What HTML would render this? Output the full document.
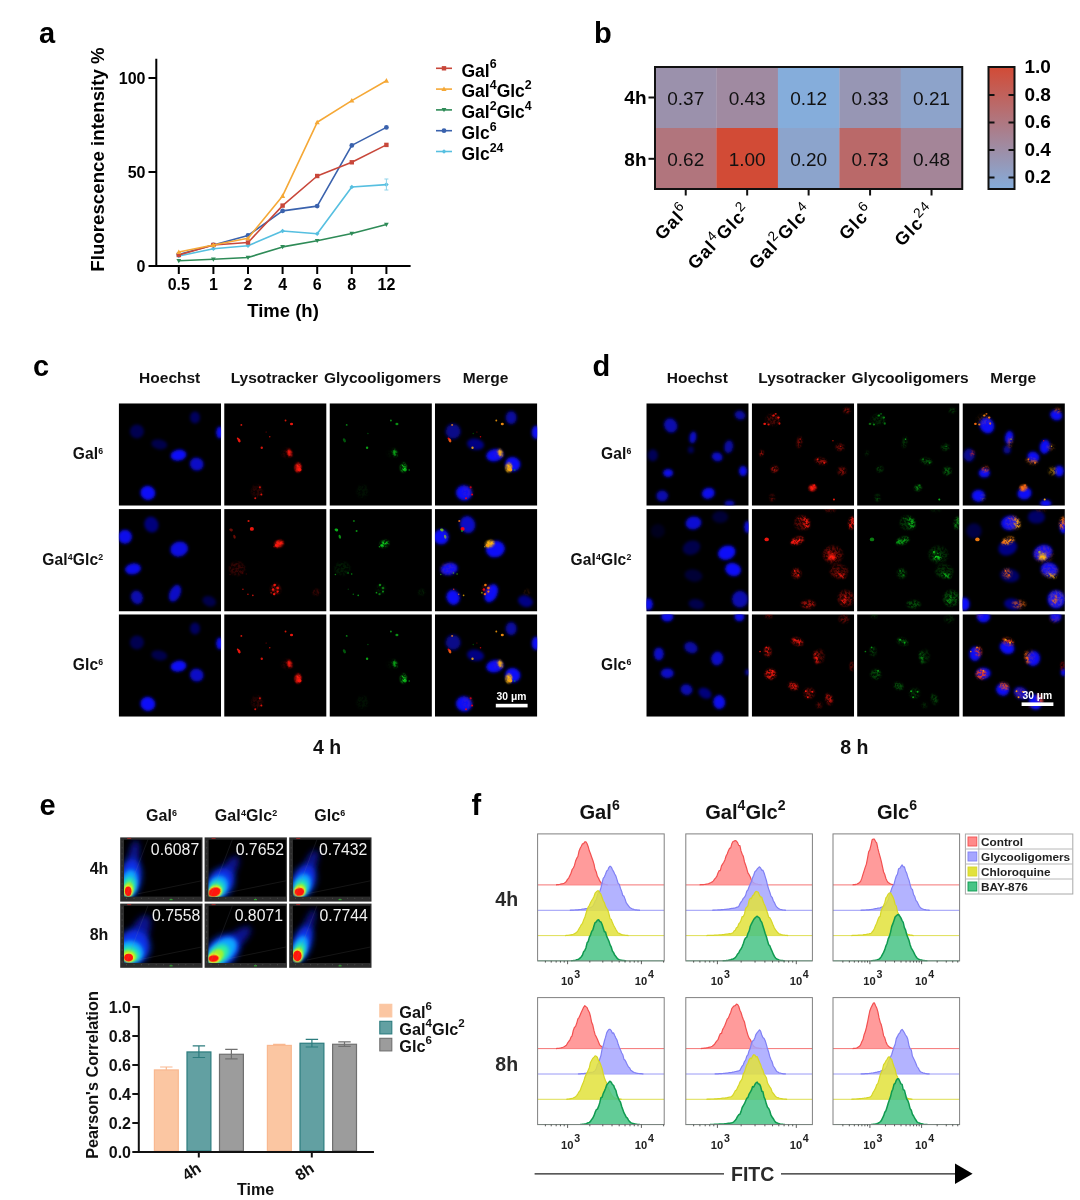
<!DOCTYPE html>
<html lang="en"><head><meta charset="utf-8"><title>Figure</title>
<style>
html,body{margin:0;padding:0;background:#fff;}
body{width:1080px;height:1200px;overflow:hidden;font-family:"Liberation Sans",sans-serif;}
svg{display:block;font-family:"Liberation Sans",sans-serif;}
</style></head><body>
<svg width="1080" height="1200" viewBox="0 0 1080 1200">
<rect width="1080" height="1200" fill="#fff"/>
<g id="panel-a">
<text x="39" y="42.5" font-size="29" font-weight="bold">a</text>
<path d="M156.3 58.7V266H410.6" fill="none" stroke="#000" stroke-width="2"/>
<path d="M148.5 266H156.3" stroke="#000" stroke-width="2"/>
<text x="145.5" y="271.6" font-size="16" font-weight="bold" text-anchor="end">0</text>
<path d="M148.5 172H156.3" stroke="#000" stroke-width="2"/>
<text x="145.5" y="177.6" font-size="16" font-weight="bold" text-anchor="end">50</text>
<path d="M148.5 78H156.3" stroke="#000" stroke-width="2"/>
<text x="145.5" y="83.6" font-size="16" font-weight="bold" text-anchor="end">100</text>
<path d="M178.8 266V274" stroke="#000" stroke-width="2"/>
<text x="178.8" y="290.3" font-size="16" font-weight="bold" text-anchor="middle">0.5</text>
<path d="M213.4 266V274" stroke="#000" stroke-width="2"/>
<text x="213.4" y="290.3" font-size="16" font-weight="bold" text-anchor="middle">1</text>
<path d="M248 266V274" stroke="#000" stroke-width="2"/>
<text x="248" y="290.3" font-size="16" font-weight="bold" text-anchor="middle">2</text>
<path d="M282.6 266V274" stroke="#000" stroke-width="2"/>
<text x="282.6" y="290.3" font-size="16" font-weight="bold" text-anchor="middle">4</text>
<path d="M317.2 266V274" stroke="#000" stroke-width="2"/>
<text x="317.2" y="290.3" font-size="16" font-weight="bold" text-anchor="middle">6</text>
<path d="M351.8 266V274" stroke="#000" stroke-width="2"/>
<text x="351.8" y="290.3" font-size="16" font-weight="bold" text-anchor="middle">8</text>
<path d="M386.4 266V274" stroke="#000" stroke-width="2"/>
<text x="386.4" y="290.3" font-size="16" font-weight="bold" text-anchor="middle">12</text>
<text x="283" y="317" font-size="18.5" font-weight="bold" text-anchor="middle">Time (h)</text>
<text transform="translate(103.6 159.5) rotate(-90)" font-size="18.7" font-weight="bold" text-anchor="middle">Fluorescence intensity %</text>
<polyline points="178.8,260.8 213.4,259.3 248,257.5 282.6,246.9 317.2,240.7 351.8,233.5 386.4,224.6" fill="none" stroke="#2e8b57" stroke-width="1.6" stroke-linejoin="round"/>
<path d="M178.8 263.2L181.2 259H176.4Z" fill="#2e8b57"/>
<path d="M213.4 261.7L215.8 257.5H211Z" fill="#2e8b57"/>
<path d="M248 259.9L250.4 255.7H245.6Z" fill="#2e8b57"/>
<path d="M282.6 249.3L285 245.1H280.2Z" fill="#2e8b57"/>
<path d="M317.2 243.1L319.6 238.9H314.8Z" fill="#2e8b57"/>
<path d="M351.8 235.9L354.2 231.7H349.4Z" fill="#2e8b57"/>
<path d="M386.4 227L388.8 222.8H384Z" fill="#2e8b57"/>
<polyline points="178.8,256 213.4,248.8 248,245.8 282.6,231 317.2,233.7 351.8,187 386.4,184.6" fill="none" stroke="#56bfe0" stroke-width="1.6" stroke-linejoin="round"/>
<path d="M178.8 253.7L181.1 256L178.8 258.3L176.5 256Z" fill="#56bfe0"/>
<path d="M213.4 246.5L215.7 248.8L213.4 251.1L211.1 248.8Z" fill="#56bfe0"/>
<path d="M248 243.5L250.3 245.8L248 248.1L245.7 245.8Z" fill="#56bfe0"/>
<path d="M282.6 228.7L284.9 231L282.6 233.3L280.3 231Z" fill="#56bfe0"/>
<path d="M317.2 231.4L319.5 233.7L317.2 236L314.9 233.7Z" fill="#56bfe0"/>
<path d="M351.8 184.7L354.1 187L351.8 189.3L349.5 187Z" fill="#56bfe0"/>
<path d="M386.4 182.3L388.7 184.6L386.4 186.9L384.1 184.6Z" fill="#56bfe0"/>
<polyline points="178.8,254.5 213.4,245 248,235.5 282.6,210.9 317.2,206.1 351.8,145.4 386.4,127.4" fill="none" stroke="#3a62ad" stroke-width="1.6" stroke-linejoin="round"/>
<circle cx="178.8" cy="254.5" r="2.4" fill="#3a62ad"/>
<circle cx="213.4" cy="245" r="2.4" fill="#3a62ad"/>
<circle cx="248" cy="235.5" r="2.4" fill="#3a62ad"/>
<circle cx="282.6" cy="210.9" r="2.4" fill="#3a62ad"/>
<circle cx="317.2" cy="206.1" r="2.4" fill="#3a62ad"/>
<circle cx="351.8" cy="145.4" r="2.4" fill="#3a62ad"/>
<circle cx="386.4" cy="127.4" r="2.4" fill="#3a62ad"/>
<polyline points="178.8,255 213.4,245 248,242.5 282.6,205.6 317.2,176 351.8,162.3 386.4,144.9" fill="none" stroke="#c8473a" stroke-width="1.6" stroke-linejoin="round"/>
<rect x="176.6" y="252.8" width="4.4" height="4.4" fill="#c8473a"/>
<rect x="211.2" y="242.8" width="4.4" height="4.4" fill="#c8473a"/>
<rect x="245.8" y="240.3" width="4.4" height="4.4" fill="#c8473a"/>
<rect x="280.4" y="203.4" width="4.4" height="4.4" fill="#c8473a"/>
<rect x="315" y="173.8" width="4.4" height="4.4" fill="#c8473a"/>
<rect x="349.6" y="160.1" width="4.4" height="4.4" fill="#c8473a"/>
<rect x="384.2" y="142.7" width="4.4" height="4.4" fill="#c8473a"/>
<polyline points="178.8,252 213.4,245 248,238.3 282.6,195.9 317.2,122.3 351.8,100.6 386.4,80.7" fill="none" stroke="#f5a836" stroke-width="1.6" stroke-linejoin="round"/>
<path d="M178.8 249.4L181.4 254H176.2Z" fill="#f5a836"/>
<path d="M213.4 242.4L216 247H210.8Z" fill="#f5a836"/>
<path d="M248 235.7L250.6 240.3H245.4Z" fill="#f5a836"/>
<path d="M282.6 193.3L285.2 197.9H280Z" fill="#f5a836"/>
<path d="M317.2 119.7L319.8 124.3H314.6Z" fill="#f5a836"/>
<path d="M351.8 98L354.4 102.6H349.2Z" fill="#f5a836"/>
<path d="M386.4 78.1L389 82.7H383.8Z" fill="#f5a836"/>
<path d="M386.4 179V190M384.4 179h4M384.4 190h4" stroke="#8fd3ea" stroke-width="1" fill="none"/>
<path d="M436 68.3H452" stroke="#c8473a" stroke-width="1.6"/>
<rect x="441.8" y="66.1" width="4.4" height="4.4" fill="#c8473a"/>
<text x="461.5" y="76.5" font-size="17.5" font-weight="bold" text-anchor="start" fill="#000" >Gal<tspan font-size="12.42" dy="-8.05">6</tspan></text>
<path d="M436 89.1H452" stroke="#f5a836" stroke-width="1.6"/>
<path d="M444 86.5L446.6 91.1H441.4Z" fill="#f5a836"/>
<text x="461.5" y="97.3" font-size="17.5" font-weight="bold" text-anchor="start" fill="#000" >Gal<tspan font-size="12.42" dy="-8.05">4</tspan><tspan dy="8.05">Glc</tspan><tspan font-size="12.42" dy="-8.05">2</tspan></text>
<path d="M436 109.9H452" stroke="#2e8b57" stroke-width="1.6"/>
<path d="M444 112.3L446.4 108.1H441.6Z" fill="#2e8b57"/>
<text x="461.5" y="118.1" font-size="17.5" font-weight="bold" text-anchor="start" fill="#000" >Gal<tspan font-size="12.42" dy="-8.05">2</tspan><tspan dy="8.05">Glc</tspan><tspan font-size="12.42" dy="-8.05">4</tspan></text>
<path d="M436 130.7H452" stroke="#3a62ad" stroke-width="1.6"/>
<circle cx="444" cy="130.7" r="2.4" fill="#3a62ad"/>
<text x="461.5" y="138.9" font-size="17.5" font-weight="bold" text-anchor="start" fill="#000" >Glc<tspan font-size="12.42" dy="-8.05">6</tspan></text>
<path d="M436 151.5H452" stroke="#56bfe0" stroke-width="1.6"/>
<path d="M444 149.2L446.3 151.5L444 153.8L441.7 151.5Z" fill="#56bfe0"/>
<text x="461.5" y="159.7" font-size="17.5" font-weight="bold" text-anchor="start" fill="#000" >Glc<tspan font-size="12.42" dy="-8.05">24</tspan></text>
</g>
<g id="panel-b">
<text x="594" y="42.5" font-size="29" font-weight="bold">b</text>
<rect x="655" y="67" width="61.75" height="61.2" fill="#9b91ac"/>
<text x="685.73" y="104.5" font-size="19" text-anchor="middle" fill="#111">0.37</text>
<rect x="716.45" y="67" width="61.75" height="61.2" fill="#a08aa1"/>
<text x="747.17" y="104.5" font-size="19" text-anchor="middle" fill="#111">0.43</text>
<rect x="777.9" y="67" width="61.75" height="61.2" fill="#85addb"/>
<text x="808.62" y="104.5" font-size="19" text-anchor="middle" fill="#111">0.12</text>
<rect x="839.35" y="67" width="61.75" height="61.2" fill="#9796b4"/>
<text x="870.08" y="104.5" font-size="19" text-anchor="middle" fill="#111">0.33</text>
<rect x="900.8" y="67" width="61.75" height="61.2" fill="#8da3ca"/>
<text x="931.53" y="104.5" font-size="19" text-anchor="middle" fill="#111">0.21</text>
<rect x="655" y="128" width="61.75" height="61.2" fill="#b1757d"/>
<text x="685.73" y="165.6" font-size="19" text-anchor="middle" fill="#111">0.62</text>
<rect x="716.45" y="128" width="61.75" height="61.2" fill="#d24b36"/>
<text x="747.17" y="165.6" font-size="19" text-anchor="middle" fill="#111">1.00</text>
<rect x="777.9" y="128" width="61.75" height="61.2" fill="#8ca4cc"/>
<text x="808.62" y="165.6" font-size="19" text-anchor="middle" fill="#111">0.20</text>
<rect x="839.35" y="128" width="61.75" height="61.2" fill="#ba6969"/>
<text x="870.08" y="165.6" font-size="19" text-anchor="middle" fill="#111">0.73</text>
<rect x="900.8" y="128" width="61.75" height="61.2" fill="#a48598"/>
<text x="931.53" y="165.6" font-size="19" text-anchor="middle" fill="#111">0.48</text>
<rect x="655" y="67" width="307.25" height="122" fill="none" stroke="#111" stroke-width="2"/>
<path d="M648.5 97.5H655" stroke="#111" stroke-width="2"/>
<text x="646.5" y="104.3" font-size="19" font-weight="bold" text-anchor="end">4h</text>
<path d="M648.5 158.8H655" stroke="#111" stroke-width="2"/>
<text x="646.5" y="165.6" font-size="19" font-weight="bold" text-anchor="end">8h</text>
<path d="M685.73 189V195.5" stroke="#111" stroke-width="2"/>
<text x="0" y="0" font-size="18" font-weight="bold" text-anchor="end" fill="#000" transform="translate(690.73 211.5) rotate(-46)" letter-spacing="1.1">Gal<tspan font-size="13.68" dy="-7.56" font-weight="normal">6</tspan></text>
<path d="M747.17 189V195.5" stroke="#111" stroke-width="2"/>
<text x="0" y="0" font-size="18" font-weight="bold" text-anchor="end" fill="#000" transform="translate(752.17 211.5) rotate(-46)" letter-spacing="1.1">Gal<tspan font-size="13.68" dy="-7.56" font-weight="normal">4</tspan><tspan dy="7.56">Glc</tspan><tspan font-size="13.68" dy="-7.56" font-weight="normal">2</tspan></text>
<path d="M808.62 189V195.5" stroke="#111" stroke-width="2"/>
<text x="0" y="0" font-size="18" font-weight="bold" text-anchor="end" fill="#000" transform="translate(813.62 211.5) rotate(-46)" letter-spacing="1.1">Gal<tspan font-size="13.68" dy="-7.56" font-weight="normal">2</tspan><tspan dy="7.56">Glc</tspan><tspan font-size="13.68" dy="-7.56" font-weight="normal">4</tspan></text>
<path d="M870.08 189V195.5" stroke="#111" stroke-width="2"/>
<text x="0" y="0" font-size="18" font-weight="bold" text-anchor="end" fill="#000" transform="translate(875.08 211.5) rotate(-46)" letter-spacing="1.1">Glc<tspan font-size="13.68" dy="-7.56" font-weight="normal">6</tspan></text>
<path d="M931.53 189V195.5" stroke="#111" stroke-width="2"/>
<text x="0" y="0" font-size="18" font-weight="bold" text-anchor="end" fill="#000" transform="translate(936.53 211.5) rotate(-46)" letter-spacing="1.1">Glc<tspan font-size="13.68" dy="-7.56" font-weight="normal">24</tspan></text>
<defs><linearGradient id="cbar" x1="0" y1="0" x2="0" y2="1"><stop offset="0" stop-color="#d24b36"/><stop offset="1" stop-color="#85addb"/></linearGradient></defs>
<rect x="988.5" y="67" width="26" height="122" fill="url(#cbar)" stroke="#111" stroke-width="2"/>
<text x="1024.5" y="73.1" font-size="19" font-weight="bold">1.0</text>
<path d="M988.5 95h6M1014.5 95h-6" stroke="#111" stroke-width="2"/>
<text x="1024.5" y="100.6" font-size="19" font-weight="bold">0.8</text>
<path d="M988.5 122.5h6M1014.5 122.5h-6" stroke="#111" stroke-width="2"/>
<text x="1024.5" y="128.1" font-size="19" font-weight="bold">0.6</text>
<path d="M988.5 150h6M1014.5 150h-6" stroke="#111" stroke-width="2"/>
<text x="1024.5" y="155.6" font-size="19" font-weight="bold">0.4</text>
<path d="M988.5 177.5h6M1014.5 177.5h-6" stroke="#111" stroke-width="2"/>
<text x="1024.5" y="183.1" font-size="19" font-weight="bold">0.2</text>
</g>
<g id="panel-cd">
<defs>
<filter id="bl1" x="-50%" y="-50%" width="200%" height="200%"><feGaussianBlur stdDeviation="1.5"/></filter>
<filter id="bl2" x="-50%" y="-50%" width="200%" height="200%"><feGaussianBlur stdDeviation="0.5"/></filter>
<filter id="bl3" x="-50%" y="-50%" width="200%" height="200%"><feGaussianBlur stdDeviation="1.0"/></filter>
<filter id="spk" x="-2" y="-2" width="107" height="107" filterUnits="userSpaceOnUse" color-interpolation-filters="sRGB"><feGaussianBlur in="SourceGraphic" stdDeviation="0.9" result="b"/><feTurbulence type="fractalNoise" baseFrequency="0.42" numOctaves="2" seed="7" result="n"/><feColorMatrix in="n" type="matrix" values="0 0 0 0 0 0 0 0 0 0 0 0 0 0 0 4.2 0 0 0 -1.55" result="m"/><feComposite in="b" in2="m" operator="in" result="sp"/><feGaussianBlur in="SourceGraphic" stdDeviation="1.4" result="h"/><feComponentTransfer in="h" result="hz"><feFuncA type="linear" slope="0.28"/></feComponentTransfer><feMerge><feMergeNode in="hz"/><feMergeNode in="sp"/></feMerge></filter>
<clipPath id="cellclip"><rect x="0" y="0" width="102.4" height="102.4"/></clipPath>
<g id="blue-c1" filter="url(#bl1)">
<ellipse cx="18.2" cy="28.1" rx="7" ry="7" transform="rotate(0 18.2 28.1)" fill="#0c0cf8" opacity="0.32"/>
<ellipse cx="76.3" cy="14.3" rx="5" ry="6" transform="rotate(0 76.3 14.3)" fill="#0c0cf8" opacity="0.38"/>
<ellipse cx="101" cy="29.1" rx="3.5" ry="6" transform="rotate(0 101 29.1)" fill="#0c0cf8" opacity="0.95"/>
<ellipse cx="40.6" cy="41" rx="8" ry="5" transform="rotate(10 40.6 41)" fill="#0c0cf8" opacity="0.3"/>
<ellipse cx="59.8" cy="51.9" rx="8" ry="5.5" transform="rotate(-10 59.8 51.9)" fill="#0c0cf8" opacity="1"/>
<ellipse cx="78" cy="60.8" rx="7" ry="6.5" transform="rotate(20 78 60.8)" fill="#0c0cf8" opacity="0.8"/>
<ellipse cx="29.1" cy="89.6" rx="7.5" ry="7" transform="rotate(20 29.1 89.6)" fill="#0c0cf8" opacity="1"/>
</g>
<g id="blueM-c1" filter="url(#bl1)">
<ellipse cx="18.2" cy="28.1" rx="7.6" ry="7.6" transform="rotate(0 18.2 28.1)" fill="#0c0cf8" opacity="0.55"/>
<ellipse cx="76.3" cy="14.3" rx="5.6" ry="6.6" transform="rotate(0 76.3 14.3)" fill="#0c0cf8" opacity="0.63"/>
<ellipse cx="101" cy="29.1" rx="4.1" ry="6.6" transform="rotate(0 101 29.1)" fill="#0c0cf8" opacity="1"/>
<ellipse cx="40.6" cy="41" rx="8.6" ry="5.6" transform="rotate(10 40.6 41)" fill="#0c0cf8" opacity="0.53"/>
<ellipse cx="59.8" cy="51.9" rx="8.6" ry="6.1" transform="rotate(-10 59.8 51.9)" fill="#0c0cf8" opacity="1"/>
<ellipse cx="78" cy="60.8" rx="7.6" ry="7.1" transform="rotate(20 78 60.8)" fill="#0c0cf8" opacity="1"/>
<ellipse cx="29.1" cy="89.6" rx="8.1" ry="7.6" transform="rotate(20 29.1 89.6)" fill="#0c0cf8" opacity="1"/>
</g>
<g id="blue-c2" filter="url(#bl1)">
<ellipse cx="32.7" cy="15.5" rx="7" ry="8" transform="rotate(-20 32.7 15.5)" fill="#0c0cf8" opacity="0.5"/>
<ellipse cx="6.3" cy="27.7" rx="7" ry="7" transform="rotate(0 6.3 27.7)" fill="#0c0cf8" opacity="0.95"/>
<ellipse cx="60.4" cy="40" rx="9" ry="7.5" transform="rotate(-15 60.4 40)" fill="#0c0cf8" opacity="0.9"/>
<ellipse cx="14.3" cy="59.8" rx="8" ry="5.5" transform="rotate(-10 14.3 59.8)" fill="#0c0cf8" opacity="0.95"/>
<ellipse cx="18.2" cy="88.2" rx="6" ry="7" transform="rotate(-20 18.2 88.2)" fill="#0c0cf8" opacity="0.7"/>
<ellipse cx="56.3" cy="84.2" rx="5.5" ry="9" transform="rotate(25 56.3 84.2)" fill="#0c0cf8" opacity="0.8"/>
<ellipse cx="90.5" cy="92.1" rx="7" ry="5" transform="rotate(20 90.5 92.1)" fill="#0c0cf8" opacity="0.3"/>
</g>
<g id="blueM-c2" filter="url(#bl1)">
<ellipse cx="32.7" cy="15.5" rx="7.6" ry="8.6" transform="rotate(-20 32.7 15.5)" fill="#0c0cf8" opacity="0.8"/>
<ellipse cx="6.3" cy="27.7" rx="7.6" ry="7.6" transform="rotate(0 6.3 27.7)" fill="#0c0cf8" opacity="1"/>
<ellipse cx="60.4" cy="40" rx="9.6" ry="8.1" transform="rotate(-15 60.4 40)" fill="#0c0cf8" opacity="1"/>
<ellipse cx="14.3" cy="59.8" rx="8.6" ry="6.1" transform="rotate(-10 14.3 59.8)" fill="#0c0cf8" opacity="1"/>
<ellipse cx="18.2" cy="88.2" rx="6.6" ry="7.6" transform="rotate(-20 18.2 88.2)" fill="#0c0cf8" opacity="1"/>
<ellipse cx="56.3" cy="84.2" rx="6.1" ry="9.6" transform="rotate(25 56.3 84.2)" fill="#0c0cf8" opacity="1"/>
<ellipse cx="90.5" cy="92.1" rx="7.6" ry="5.6" transform="rotate(20 90.5 92.1)" fill="#0c0cf8" opacity="0.53"/>
</g>
<g id="blue-d1" filter="url(#bl1)">
<ellipse cx="24.4" cy="22.2" rx="6.5" ry="7.5" transform="rotate(-30 24.4 22.2)" fill="#0c0cf8" opacity="0.7"/>
<ellipse cx="93.7" cy="11.9" rx="5.5" ry="4.5" transform="rotate(20 93.7 11.9)" fill="#0c0cf8" opacity="0.65"/>
<ellipse cx="46.6" cy="34.1" rx="3.5" ry="6" transform="rotate(10 46.6 34.1)" fill="#0c0cf8" opacity="0.8"/>
<ellipse cx="44.6" cy="46.4" rx="3" ry="3.5" transform="rotate(0 44.6 46.4)" fill="#0c0cf8" opacity="0.35"/>
<ellipse cx="82.4" cy="43.4" rx="4.5" ry="6.5" transform="rotate(10 82.4 43.4)" fill="#0c0cf8" opacity="0.65"/>
<ellipse cx="6.5" cy="51.9" rx="5" ry="6" transform="rotate(0 6.5 51.9)" fill="#0c0cf8" opacity="0.35"/>
<ellipse cx="70.9" cy="53.5" rx="5.5" ry="4.5" transform="rotate(20 70.9 53.5)" fill="#0c0cf8" opacity="0.8"/>
<ellipse cx="21.8" cy="69.7" rx="5" ry="4" transform="rotate(0 21.8 69.7)" fill="#0c0cf8" opacity="0.95"/>
<ellipse cx="96.7" cy="67.8" rx="4" ry="5" transform="rotate(0 96.7 67.8)" fill="#0c0cf8" opacity="0.95"/>
<ellipse cx="15.9" cy="92.5" rx="6" ry="5.5" transform="rotate(0 15.9 92.5)" fill="#0c0cf8" opacity="0.7"/>
<ellipse cx="62" cy="90" rx="6.5" ry="5.5" transform="rotate(-15 62 90)" fill="#0c0cf8" opacity="0.95"/>
<ellipse cx="83.2" cy="100" rx="5" ry="3" transform="rotate(0 83.2 100)" fill="#0c0cf8" opacity="0.7"/>
</g>
<g id="blueM-d1" filter="url(#bl1)">
<ellipse cx="24.4" cy="22.2" rx="7.1" ry="8.1" transform="rotate(-30 24.4 22.2)" fill="#0c0cf8" opacity="1"/>
<ellipse cx="93.7" cy="11.9" rx="6.1" ry="5.1" transform="rotate(20 93.7 11.9)" fill="#0c0cf8" opacity="1"/>
<ellipse cx="46.6" cy="34.1" rx="4.1" ry="6.6" transform="rotate(10 46.6 34.1)" fill="#0c0cf8" opacity="1"/>
<ellipse cx="44.6" cy="46.4" rx="3.6" ry="4.1" transform="rotate(0 44.6 46.4)" fill="#0c0cf8" opacity="0.59"/>
<ellipse cx="82.4" cy="43.4" rx="5.1" ry="7.1" transform="rotate(10 82.4 43.4)" fill="#0c0cf8" opacity="1"/>
<ellipse cx="6.5" cy="51.9" rx="5.6" ry="6.6" transform="rotate(0 6.5 51.9)" fill="#0c0cf8" opacity="0.59"/>
<ellipse cx="70.9" cy="53.5" rx="6.1" ry="5.1" transform="rotate(20 70.9 53.5)" fill="#0c0cf8" opacity="1"/>
<ellipse cx="21.8" cy="69.7" rx="5.6" ry="4.6" transform="rotate(0 21.8 69.7)" fill="#0c0cf8" opacity="1"/>
<ellipse cx="96.7" cy="67.8" rx="4.6" ry="5.6" transform="rotate(0 96.7 67.8)" fill="#0c0cf8" opacity="1"/>
<ellipse cx="15.9" cy="92.5" rx="6.6" ry="6.1" transform="rotate(0 15.9 92.5)" fill="#0c0cf8" opacity="1"/>
<ellipse cx="62" cy="90" rx="7.1" ry="6.1" transform="rotate(-15 62 90)" fill="#0c0cf8" opacity="1"/>
<ellipse cx="83.2" cy="100" rx="5.6" ry="3.6" transform="rotate(0 83.2 100)" fill="#0c0cf8" opacity="1"/>
</g>
<g id="blue-d2" filter="url(#bl1)">
<ellipse cx="47.2" cy="13.9" rx="8" ry="6.5" transform="rotate(-10 47.2 13.9)" fill="#0c0cf8" opacity="0.85"/>
<ellipse cx="73.9" cy="7.9" rx="8" ry="6" transform="rotate(0 73.9 7.9)" fill="#0c0cf8" opacity="0.22"/>
<ellipse cx="101" cy="17.8" rx="3" ry="6" transform="rotate(0 101 17.8)" fill="#0c0cf8" opacity="0.9"/>
<ellipse cx="45.2" cy="38.6" rx="9" ry="7" transform="rotate(-20 45.2 38.6)" fill="#0c0cf8" opacity="0.3"/>
<ellipse cx="80.4" cy="43.6" rx="9" ry="7" transform="rotate(-20 80.4 43.6)" fill="#0c0cf8" opacity="1"/>
<ellipse cx="86.8" cy="60.4" rx="8" ry="6.5" transform="rotate(15 86.8 60.4)" fill="#0c0cf8" opacity="1"/>
<ellipse cx="47.2" cy="66.4" rx="9" ry="6" transform="rotate(10 47.2 66.4)" fill="#0c0cf8" opacity="0.22"/>
<ellipse cx="11.5" cy="21.8" rx="7" ry="7" transform="rotate(0 11.5 21.8)" fill="#0c0cf8" opacity="0.12"/>
<ellipse cx="2" cy="95.1" rx="4.5" ry="6" transform="rotate(0 2 95.1)" fill="#0c0cf8" opacity="0.95"/>
<ellipse cx="93.7" cy="90.2" rx="8" ry="8.5" transform="rotate(0 93.7 90.2)" fill="#0c0cf8" opacity="0.7"/>
<ellipse cx="50.1" cy="95.1" rx="8" ry="5" transform="rotate(10 50.1 95.1)" fill="#0c0cf8" opacity="0.3"/>
</g>
<g id="blueM-d2" filter="url(#bl1)">
<ellipse cx="47.2" cy="13.9" rx="8.6" ry="7.1" transform="rotate(-10 47.2 13.9)" fill="#0c0cf8" opacity="1"/>
<ellipse cx="73.9" cy="7.9" rx="8.6" ry="6.6" transform="rotate(0 73.9 7.9)" fill="#0c0cf8" opacity="0.42"/>
<ellipse cx="101" cy="17.8" rx="3.6" ry="6.6" transform="rotate(0 101 17.8)" fill="#0c0cf8" opacity="1"/>
<ellipse cx="45.2" cy="38.6" rx="9.6" ry="7.6" transform="rotate(-20 45.2 38.6)" fill="#0c0cf8" opacity="0.53"/>
<ellipse cx="80.4" cy="43.6" rx="9.6" ry="7.6" transform="rotate(-20 80.4 43.6)" fill="#0c0cf8" opacity="1"/>
<ellipse cx="86.8" cy="60.4" rx="8.6" ry="7.1" transform="rotate(15 86.8 60.4)" fill="#0c0cf8" opacity="1"/>
<ellipse cx="47.2" cy="66.4" rx="9.6" ry="6.6" transform="rotate(10 47.2 66.4)" fill="#0c0cf8" opacity="0.42"/>
<ellipse cx="11.5" cy="21.8" rx="7.6" ry="7.6" transform="rotate(0 11.5 21.8)" fill="#0c0cf8" opacity="0.28"/>
<ellipse cx="2" cy="95.1" rx="5.1" ry="6.6" transform="rotate(0 2 95.1)" fill="#0c0cf8" opacity="1"/>
<ellipse cx="93.7" cy="90.2" rx="8.6" ry="9.1" transform="rotate(0 93.7 90.2)" fill="#0c0cf8" opacity="1"/>
<ellipse cx="50.1" cy="95.1" rx="8.6" ry="5.6" transform="rotate(10 50.1 95.1)" fill="#0c0cf8" opacity="0.53"/>
</g>
<g id="blue-d3" filter="url(#bl1)">
<ellipse cx="21" cy="2.5" rx="6" ry="5" transform="rotate(0 21 2.5)" fill="#0c0cf8" opacity="0.95"/>
<ellipse cx="93.1" cy="2.5" rx="5" ry="4.5" transform="rotate(0 93.1 2.5)" fill="#0c0cf8" opacity="0.95"/>
<ellipse cx="44.6" cy="33.3" rx="7" ry="5.5" transform="rotate(25 44.6 33.3)" fill="#0c0cf8" opacity="0.65"/>
<ellipse cx="12.5" cy="39.6" rx="5" ry="6.5" transform="rotate(0 12.5 39.6)" fill="#0c0cf8" opacity="0.8"/>
<ellipse cx="70.9" cy="44.2" rx="6" ry="7" transform="rotate(10 70.9 44.2)" fill="#0c0cf8" opacity="0.8"/>
<ellipse cx="21" cy="59" rx="6.5" ry="5" transform="rotate(0 21 59)" fill="#0c0cf8" opacity="0.8"/>
<ellipse cx="101" cy="58" rx="2" ry="3" transform="rotate(0 101 58)" fill="#0c0cf8" opacity="0.7"/>
<ellipse cx="40.2" cy="75.3" rx="6" ry="5.5" transform="rotate(20 40.2 75.3)" fill="#0c0cf8" opacity="0.7"/>
<ellipse cx="58.6" cy="78.9" rx="7" ry="5" transform="rotate(30 58.6 78.9)" fill="#0c0cf8" opacity="0.5"/>
<ellipse cx="72.9" cy="87.8" rx="6" ry="7" transform="rotate(-10 72.9 87.8)" fill="#0c0cf8" opacity="0.95"/>
</g>
<g id="blueM-d3" filter="url(#bl1)">
<ellipse cx="21" cy="2.5" rx="6.6" ry="5.6" transform="rotate(0 21 2.5)" fill="#0c0cf8" opacity="1"/>
<ellipse cx="93.1" cy="2.5" rx="5.6" ry="5.1" transform="rotate(0 93.1 2.5)" fill="#0c0cf8" opacity="1"/>
<ellipse cx="44.6" cy="33.3" rx="7.6" ry="6.1" transform="rotate(25 44.6 33.3)" fill="#0c0cf8" opacity="1"/>
<ellipse cx="12.5" cy="39.6" rx="5.6" ry="7.1" transform="rotate(0 12.5 39.6)" fill="#0c0cf8" opacity="1"/>
<ellipse cx="70.9" cy="44.2" rx="6.6" ry="7.6" transform="rotate(10 70.9 44.2)" fill="#0c0cf8" opacity="1"/>
<ellipse cx="21" cy="59" rx="7.1" ry="5.6" transform="rotate(0 21 59)" fill="#0c0cf8" opacity="1"/>
<ellipse cx="101" cy="58" rx="2.6" ry="3.6" transform="rotate(0 101 58)" fill="#0c0cf8" opacity="1"/>
<ellipse cx="40.2" cy="75.3" rx="6.6" ry="6.1" transform="rotate(20 40.2 75.3)" fill="#0c0cf8" opacity="1"/>
<ellipse cx="58.6" cy="78.9" rx="7.6" ry="5.6" transform="rotate(30 58.6 78.9)" fill="#0c0cf8" opacity="0.8"/>
<ellipse cx="72.9" cy="87.8" rx="6.6" ry="7.6" transform="rotate(-10 72.9 87.8)" fill="#0c0cf8" opacity="1"/>
</g>
<g id="red-c1" fill="#ff1a10"><g filter="url(#spk)"><ellipse cx="65.4" cy="49.5" rx="1.8" ry="3.6" transform="rotate(-20 65.4 49.5)" opacity="0.9"/><ellipse cx="73.9" cy="64.2" rx="2.6" ry="4.2" transform="rotate(0 73.9 64.2)" opacity="1"/><ellipse cx="33" cy="88" rx="6" ry="7" transform="rotate(0 33 88)" opacity="0.12"/><ellipse cx="62" cy="50" rx="5" ry="5" transform="rotate(0 62 50)" opacity="0.1"/></g><g filter="url(#bl3)" opacity="0.8"><ellipse cx="65.4" cy="49.5" rx="1.8" ry="3.6" transform="rotate(-20 65.4 49.5)" opacity="0.9"/><ellipse cx="73.9" cy="64.2" rx="2.6" ry="4.2" transform="rotate(0 73.9 64.2)" opacity="1"/></g><g filter="url(#bl2)"><ellipse cx="17.2" cy="21.6" rx="0.94" ry="0.94" transform="rotate(0 17.2 21.6)" opacity="0.83"/><ellipse cx="14.9" cy="37" rx="1.36" ry="2.21" transform="rotate(-25 14.9 37)" opacity="0.92"/><ellipse cx="13.5" cy="35" rx="0.85" ry="0.85" transform="rotate(0 13.5 35)" opacity="0.92"/><ellipse cx="37.6" cy="44.4" rx="1.19" ry="1.19" transform="rotate(0 37.6 44.4)" opacity="0.83"/><ellipse cx="45.6" cy="33.5" rx="0.77" ry="0.77" transform="rotate(0 45.6 33.5)" opacity="0.74"/><ellipse cx="42" cy="28.7" rx="0.59" ry="0.59" transform="rotate(0 42 28.7)" opacity="0.55"/><ellipse cx="61.4" cy="17.2" rx="0.94" ry="0.94" transform="rotate(0 61.4 17.2)" opacity="0.83"/><ellipse cx="67.4" cy="20.6" rx="1.53" ry="1.27" transform="rotate(0 67.4 20.6)" opacity="0.92"/><ellipse cx="75.5" cy="66.5" rx="1.87" ry="1.7" transform="rotate(0 75.5 66.5)" opacity="0.92"/><ellipse cx="35.7" cy="84" rx="1.1" ry="1.1" transform="rotate(0 35.7 84)" opacity="0.74"/><ellipse cx="37.2" cy="91.1" rx="1.02" ry="1.02" transform="rotate(0 37.2 91.1)" opacity="0.83"/><ellipse cx="31.1" cy="94.9" rx="1.02" ry="1.02" transform="rotate(0 31.1 94.9)" opacity="0.83"/></g></g>
<g id="green-c1" fill="#10e020"><g filter="url(#spk)"><ellipse cx="65.4" cy="49.5" rx="1.8" ry="3.6" transform="rotate(-20 65.4 49.5)" opacity="0.77"/><ellipse cx="73.9" cy="64.2" rx="2.6" ry="4.2" transform="rotate(0 73.9 64.2)" opacity="0.85"/><ellipse cx="33" cy="88" rx="6" ry="7" transform="rotate(0 33 88)" opacity="0.06"/><ellipse cx="62" cy="50" rx="5" ry="5" transform="rotate(0 62 50)" opacity="0.04"/></g><g filter="url(#bl3)" opacity="0.8"></g><g filter="url(#bl2)"><ellipse cx="17.2" cy="21.6" rx="0.94" ry="0.94" transform="rotate(0 17.2 21.6)" opacity="0.55"/><ellipse cx="14.9" cy="37" rx="1.36" ry="2.21" transform="rotate(-25 14.9 37)" opacity="0.39"/><ellipse cx="37.6" cy="44.4" rx="1.19" ry="1.19" transform="rotate(0 37.6 44.4)" opacity="0.7"/><ellipse cx="38.4" cy="30.1" rx="0.77" ry="0.77" transform="rotate(0 38.4 30.1)" opacity="0.31"/><ellipse cx="61.4" cy="17.2" rx="0.94" ry="0.94" transform="rotate(0 61.4 17.2)" opacity="0.63"/><ellipse cx="67.4" cy="20.6" rx="1.53" ry="1.27" transform="rotate(0 67.4 20.6)" opacity="0.63"/><ellipse cx="75.5" cy="66.5" rx="1.87" ry="1.7" transform="rotate(0 75.5 66.5)" opacity="0.7"/><ellipse cx="79.7" cy="66.8" rx="0.77" ry="0.77" transform="rotate(0 79.7 66.8)" opacity="0.63"/></g></g>
<g id="mrg-c1"><g filter="url(#spk)"><ellipse cx="65.4" cy="49.5" rx="1.8" ry="3.6" transform="rotate(-20 65.4 49.5)" fill="rgb(255,183,16)" opacity="0.9"/><ellipse cx="73.9" cy="64.2" rx="2.6" ry="4.2" transform="rotate(0 73.9 64.2)" fill="rgb(255,183,16)" opacity="1"/><ellipse cx="33" cy="88" rx="6" ry="7" transform="rotate(0 33 88)" fill="rgb(255,107,16)" opacity="0.07"/><ellipse cx="62" cy="50" rx="5" ry="5" transform="rotate(0 62 50)" fill="rgb(255,91,16)" opacity="0.06"/></g><g filter="url(#bl3)" opacity="0.8"><ellipse cx="65.4" cy="49.5" rx="1.8" ry="3.6" transform="rotate(-20 65.4 49.5)" fill="rgb(255,183,16)" opacity="0.9"/><ellipse cx="73.9" cy="64.2" rx="2.6" ry="4.2" transform="rotate(0 73.9 64.2)" fill="rgb(255,183,16)" opacity="1"/></g><g filter="url(#bl2)"><ellipse cx="17.2" cy="21.6" rx="0.94" ry="0.94" transform="rotate(0 17.2 21.6)" fill="rgb(255,142,16)" opacity="0.83"/><ellipse cx="14.9" cy="37" rx="1.36" ry="2.21" transform="rotate(-25 14.9 37)" fill="rgb(255,91,16)" opacity="0.92"/><ellipse cx="13.5" cy="35" rx="0.85" ry="0.85" transform="rotate(0 13.5 35)" fill="rgb(255,0,16)" opacity="0.92"/><ellipse cx="37.6" cy="44.4" rx="1.19" ry="1.19" transform="rotate(0 37.6 44.4)" fill="rgb(255,183,16)" opacity="0.83"/><ellipse cx="45.6" cy="33.5" rx="0.77" ry="0.77" transform="rotate(0 45.6 33.5)" fill="rgb(255,0,16)" opacity="0.74"/><ellipse cx="42" cy="28.7" rx="0.59" ry="0.59" transform="rotate(0 42 28.7)" fill="rgb(255,0,16)" opacity="0.55"/><ellipse cx="38.4" cy="30.1" rx="0.77" ry="0.77" transform="rotate(0 38.4 30.1)" fill="rgb(0,215,16)" opacity="0.31"/><ellipse cx="61.4" cy="17.2" rx="0.94" ry="0.94" transform="rotate(0 61.4 17.2)" fill="rgb(255,162,16)" opacity="0.83"/><ellipse cx="67.4" cy="20.6" rx="1.53" ry="1.27" transform="rotate(0 67.4 20.6)" fill="rgb(255,146,16)" opacity="0.92"/><ellipse cx="75.5" cy="66.5" rx="1.87" ry="1.7" transform="rotate(0 75.5 66.5)" fill="rgb(255,164,16)" opacity="0.92"/><ellipse cx="79.7" cy="66.8" rx="0.77" ry="0.77" transform="rotate(0 79.7 66.8)" fill="rgb(0,215,16)" opacity="0.63"/><ellipse cx="35.7" cy="84" rx="1.1" ry="1.1" transform="rotate(0 35.7 84)" fill="rgb(255,0,16)" opacity="0.74"/><ellipse cx="37.2" cy="91.1" rx="1.02" ry="1.02" transform="rotate(0 37.2 91.1)" fill="rgb(255,0,16)" opacity="0.83"/><ellipse cx="31.1" cy="94.9" rx="1.02" ry="1.02" transform="rotate(0 31.1 94.9)" fill="rgb(255,0,16)" opacity="0.83"/></g></g>
<g id="red-c2" fill="#ff1a10"><g filter="url(#spk)"><ellipse cx="54.9" cy="34.7" rx="4.2" ry="3" transform="rotate(-25 54.9 34.7)" opacity="1"/><ellipse cx="12.9" cy="59.4" rx="8" ry="7" transform="rotate(0 12.9 59.4)" opacity="0.16"/><ellipse cx="51.5" cy="80.2" rx="5" ry="6" transform="rotate(0 51.5 80.2)" opacity="0.28"/><ellipse cx="92.1" cy="83.2" rx="3.5" ry="3" transform="rotate(0 92.1 83.2)" opacity="0.22"/></g><g filter="url(#bl3)" opacity="0.8"><ellipse cx="54.9" cy="34.7" rx="4.2" ry="3" transform="rotate(-25 54.9 34.7)" opacity="1"/></g><g filter="url(#bl2)"><ellipse cx="27.7" cy="19.8" rx="2.04" ry="1.87" transform="rotate(0 27.7 19.8)" opacity="0.92"/><ellipse cx="24.4" cy="11.9" rx="1.1" ry="1.1" transform="rotate(0 24.4 11.9)" opacity="0.83"/><ellipse cx="6.9" cy="20.8" rx="1.87" ry="1.36" transform="rotate(20 6.9 20.8)" opacity="0.41"/><ellipse cx="10.3" cy="27.7" rx="1.19" ry="2.04" transform="rotate(-15 10.3 27.7)" opacity="0.41"/><ellipse cx="52" cy="36.5" rx="1.27" ry="1.27" transform="rotate(0 52 36.5)" opacity="0.92"/><ellipse cx="49.9" cy="37.6" rx="0.77" ry="0.77" transform="rotate(0 49.9 37.6)" opacity="0.55"/><ellipse cx="18.6" cy="63.8" rx="0.77" ry="0.77" transform="rotate(0 18.6 63.8)" opacity="0.28"/><ellipse cx="22.2" cy="64.8" rx="0.77" ry="0.77" transform="rotate(0 22.2 64.8)" opacity="0.18"/><ellipse cx="5.9" cy="65.4" rx="0.77" ry="0.77" transform="rotate(0 5.9 65.4)" opacity="0.18"/><ellipse cx="50.5" cy="76" rx="1.27" ry="1.27" transform="rotate(0 50.5 76)" opacity="0.92"/><ellipse cx="53.5" cy="79" rx="1.36" ry="1.36" transform="rotate(0 53.5 79)" opacity="0.92"/><ellipse cx="49" cy="80.5" rx="1.27" ry="1.27" transform="rotate(0 49 80.5)" opacity="0.92"/><ellipse cx="53.5" cy="82.5" rx="1.1" ry="1.1" transform="rotate(0 53.5 82.5)" opacity="0.92"/><ellipse cx="50" cy="85" rx="1.19" ry="1.19" transform="rotate(0 50 85)" opacity="0.92"/><ellipse cx="47" cy="83.6" rx="0.85" ry="0.85" transform="rotate(0 47 83.6)" opacity="0.46"/><ellipse cx="18.8" cy="80.2" rx="0.77" ry="0.77" transform="rotate(0 18.8 80.2)" opacity="0.74"/><ellipse cx="23.8" cy="85.2" rx="0.77" ry="0.77" transform="rotate(0 23.8 85.2)" opacity="0.74"/><ellipse cx="28.7" cy="86.2" rx="0.85" ry="0.85" transform="rotate(0 28.7 86.2)" opacity="0.74"/></g></g>
<g id="green-c2" fill="#10e020"><g filter="url(#spk)"><ellipse cx="54.9" cy="34.7" rx="4.2" ry="3" transform="rotate(-25 54.9 34.7)" opacity="0.85"/><ellipse cx="12.9" cy="59.4" rx="8" ry="7" transform="rotate(0 12.9 59.4)" opacity="0.09"/><ellipse cx="51.5" cy="80.2" rx="5" ry="6" transform="rotate(0 51.5 80.2)" opacity="0.07"/><ellipse cx="92.1" cy="83.2" rx="3.5" ry="3" transform="rotate(0 92.1 83.2)" opacity="0.12"/></g><g filter="url(#bl3)" opacity="0.8"></g><g filter="url(#bl2)"><ellipse cx="24.4" cy="11.9" rx="1.1" ry="1.1" transform="rotate(0 24.4 11.9)" opacity="0.47"/><ellipse cx="27.1" cy="21.8" rx="1.02" ry="1.02" transform="rotate(0 27.1 21.8)" opacity="0.63"/><ellipse cx="6.9" cy="20.8" rx="1.87" ry="1.36" transform="rotate(20 6.9 20.8)" opacity="0.78"/><ellipse cx="10.3" cy="27.7" rx="1.19" ry="2.04" transform="rotate(-15 10.3 27.7)" opacity="0.63"/><ellipse cx="52" cy="36.5" rx="1.27" ry="1.27" transform="rotate(0 52 36.5)" opacity="0.63"/><ellipse cx="49.9" cy="37.6" rx="0.77" ry="0.77" transform="rotate(0 49.9 37.6)" opacity="0.63"/><ellipse cx="18.6" cy="63.8" rx="0.77" ry="0.77" transform="rotate(0 18.6 63.8)" opacity="0.63"/><ellipse cx="22.2" cy="64.8" rx="0.77" ry="0.77" transform="rotate(0 22.2 64.8)" opacity="0.63"/><ellipse cx="5.9" cy="65.4" rx="0.77" ry="0.77" transform="rotate(0 5.9 65.4)" opacity="0.55"/><ellipse cx="50.5" cy="76" rx="1.27" ry="1.27" transform="rotate(0 50.5 76)" opacity="0.55"/><ellipse cx="53.5" cy="79" rx="1.36" ry="1.36" transform="rotate(0 53.5 79)" opacity="0.47"/><ellipse cx="53.5" cy="82.5" rx="1.1" ry="1.1" transform="rotate(0 53.5 82.5)" opacity="0.55"/><ellipse cx="50" cy="85" rx="1.19" ry="1.19" transform="rotate(0 50 85)" opacity="0.47"/><ellipse cx="47" cy="83.6" rx="0.85" ry="0.85" transform="rotate(0 47 83.6)" opacity="0.63"/><ellipse cx="18.8" cy="80.2" rx="0.77" ry="0.77" transform="rotate(0 18.8 80.2)" opacity="0.23"/><ellipse cx="23.8" cy="85.2" rx="0.77" ry="0.77" transform="rotate(0 23.8 85.2)" opacity="0.47"/><ellipse cx="28.7" cy="86.2" rx="0.85" ry="0.85" transform="rotate(0 28.7 86.2)" opacity="0.63"/></g></g>
<g id="mrg-c2"><g filter="url(#spk)"><ellipse cx="54.9" cy="34.7" rx="4.2" ry="3" transform="rotate(-25 54.9 34.7)" fill="rgb(255,183,16)" opacity="1"/><ellipse cx="12.9" cy="59.4" rx="8" ry="7" transform="rotate(0 12.9 59.4)" fill="rgb(255,114,16)" opacity="0.09"/><ellipse cx="51.5" cy="80.2" rx="5" ry="6" transform="rotate(0 51.5 80.2)" fill="rgb(255,52,16)" opacity="0.15"/><ellipse cx="92.1" cy="83.2" rx="3.5" ry="3" transform="rotate(0 92.1 83.2)" fill="rgb(255,116,16)" opacity="0.12"/></g><g filter="url(#bl3)" opacity="0.8"><ellipse cx="54.9" cy="34.7" rx="4.2" ry="3" transform="rotate(-25 54.9 34.7)" fill="rgb(255,183,16)" opacity="1"/></g><g filter="url(#bl2)"><ellipse cx="27.7" cy="19.8" rx="2.04" ry="1.87" transform="rotate(0 27.7 19.8)" fill="rgb(255,0,16)" opacity="0.92"/><ellipse cx="24.4" cy="11.9" rx="1.1" ry="1.1" transform="rotate(0 24.4 11.9)" fill="rgb(255,122,16)" opacity="0.83"/><ellipse cx="27.1" cy="21.8" rx="1.02" ry="1.02" transform="rotate(0 27.1 21.8)" fill="rgb(0,215,16)" opacity="0.63"/><ellipse cx="6.9" cy="20.8" rx="1.87" ry="1.36" transform="rotate(20 6.9 20.8)" fill="rgb(135,215,16)" opacity="0.78"/><ellipse cx="10.3" cy="27.7" rx="1.19" ry="2.04" transform="rotate(-15 10.3 27.7)" fill="rgb(169,215,16)" opacity="0.63"/><ellipse cx="52" cy="36.5" rx="1.27" ry="1.27" transform="rotate(0 52 36.5)" fill="rgb(255,146,16)" opacity="0.92"/><ellipse cx="49.9" cy="37.6" rx="0.77" ry="0.77" transform="rotate(0 49.9 37.6)" fill="rgb(225,215,16)" opacity="0.63"/><ellipse cx="18.6" cy="63.8" rx="0.77" ry="0.77" transform="rotate(0 18.6 63.8)" fill="rgb(112,215,16)" opacity="0.63"/><ellipse cx="22.2" cy="64.8" rx="0.77" ry="0.77" transform="rotate(0 22.2 64.8)" fill="rgb(75,215,16)" opacity="0.63"/><ellipse cx="5.9" cy="65.4" rx="0.77" ry="0.77" transform="rotate(0 5.9 65.4)" fill="rgb(86,215,16)" opacity="0.55"/><ellipse cx="50.5" cy="76" rx="1.27" ry="1.27" transform="rotate(0 50.5 76)" fill="rgb(255,128,16)" opacity="0.92"/><ellipse cx="53.5" cy="79" rx="1.36" ry="1.36" transform="rotate(0 53.5 79)" fill="rgb(255,110,16)" opacity="0.92"/><ellipse cx="49" cy="80.5" rx="1.27" ry="1.27" transform="rotate(0 49 80.5)" fill="rgb(255,0,16)" opacity="0.92"/><ellipse cx="53.5" cy="82.5" rx="1.1" ry="1.1" transform="rotate(0 53.5 82.5)" fill="rgb(255,128,16)" opacity="0.92"/><ellipse cx="50" cy="85" rx="1.19" ry="1.19" transform="rotate(0 50 85)" fill="rgb(255,110,16)" opacity="0.92"/><ellipse cx="47" cy="83.6" rx="0.85" ry="0.85" transform="rotate(0 47 83.6)" fill="rgb(188,215,16)" opacity="0.63"/><ellipse cx="18.8" cy="80.2" rx="0.77" ry="0.77" transform="rotate(0 18.8 80.2)" fill="rgb(255,69,16)" opacity="0.74"/><ellipse cx="23.8" cy="85.2" rx="0.77" ry="0.77" transform="rotate(0 23.8 85.2)" fill="rgb(255,137,16)" opacity="0.74"/><ellipse cx="28.7" cy="86.2" rx="0.85" ry="0.85" transform="rotate(0 28.7 86.2)" fill="rgb(255,183,16)" opacity="0.74"/></g></g>
<g id="red-d1" fill="#ff1a10"><g filter="url(#spk)"><ellipse cx="21" cy="16.5" rx="7" ry="6" transform="rotate(0 21 16.5)" opacity="0.22"/><ellipse cx="95.1" cy="7.3" rx="3.2" ry="2.6" transform="rotate(0 95.1 7.3)" opacity="0.45"/><ellipse cx="47.6" cy="39" rx="2.2" ry="6" transform="rotate(10 47.6 39)" opacity="0.4"/><ellipse cx="9.9" cy="49.9" rx="1.4" ry="3" transform="rotate(0 9.9 49.9)" opacity="0.7"/><ellipse cx="88.2" cy="44" rx="4" ry="3.5" transform="rotate(0 88.2 44)" opacity="0.35"/><ellipse cx="69.3" cy="57.9" rx="6" ry="3" transform="rotate(15 69.3 57.9)" opacity="0.45"/><ellipse cx="22.8" cy="65.8" rx="3" ry="2.8" transform="rotate(0 22.8 65.8)" opacity="0.8"/><ellipse cx="90.2" cy="67.8" rx="4" ry="4" transform="rotate(0 90.2 67.8)" opacity="0.4"/><ellipse cx="60.8" cy="84.6" rx="3.4" ry="2.6" transform="rotate(-25 60.8 84.6)" opacity="1"/><ellipse cx="20.4" cy="94.5" rx="2.4" ry="3.5" transform="rotate(0 20.4 94.5)" opacity="0.3"/></g><g filter="url(#bl3)" opacity="0.8"><ellipse cx="60.8" cy="84.6" rx="3.4" ry="2.6" transform="rotate(-25 60.8 84.6)" opacity="1"/></g><g filter="url(#bl2)"><ellipse cx="12.9" cy="20.6" rx="1.36" ry="1.1" transform="rotate(0 12.9 20.6)" opacity="0.92"/><ellipse cx="16.8" cy="21.2" rx="1.1" ry="0.94" transform="rotate(0 16.8 21.2)" opacity="0.83"/><ellipse cx="21.8" cy="12.3" rx="1.27" ry="1.02" transform="rotate(0 21.8 12.3)" opacity="0.83"/><ellipse cx="26.7" cy="14.3" rx="1.27" ry="1.1" transform="rotate(0 26.7 14.3)" opacity="0.92"/><ellipse cx="27.7" cy="20.2" rx="1.02" ry="1.27" transform="rotate(0 27.7 20.2)" opacity="0.74"/><ellipse cx="24" cy="10.5" rx="1.02" ry="0.85" transform="rotate(0 24 10.5)" opacity="0.74"/><ellipse cx="48.5" cy="36" rx="0.68" ry="0.68" transform="rotate(0 48.5 36)" opacity="0.28"/><ellipse cx="89" cy="43" rx="0.77" ry="0.77" transform="rotate(0 89 43)" opacity="0.74"/><ellipse cx="81.2" cy="37.4" rx="0.68" ry="0.68" transform="rotate(0 81.2 37.4)" opacity="0.74"/><ellipse cx="66" cy="56" rx="0.85" ry="0.85" transform="rotate(0 66 56)" opacity="0.83"/><ellipse cx="72.5" cy="59.5" rx="1.1" ry="1.1" transform="rotate(0 72.5 59.5)" opacity="0.83"/><ellipse cx="62.5" cy="82" rx="1.02" ry="1.02" transform="rotate(0 62.5 82)" opacity="0.83"/><ellipse cx="82.2" cy="96.1" rx="1.02" ry="1.02" transform="rotate(0 82.2 96.1)" opacity="0.92"/></g></g>
<g id="green-d1" fill="#10e020"><g filter="url(#spk)"><ellipse cx="21" cy="16.5" rx="7" ry="6" transform="rotate(0 21 16.5)" opacity="0.13"/><ellipse cx="95.1" cy="7.3" rx="3.2" ry="2.6" transform="rotate(0 95.1 7.3)" opacity="0.21"/><ellipse cx="47.6" cy="39" rx="2.2" ry="6" transform="rotate(10 47.6 39)" opacity="0.21"/><ellipse cx="9.9" cy="49.9" rx="1.4" ry="3" transform="rotate(0 9.9 49.9)" opacity="0.17"/><ellipse cx="88.2" cy="44" rx="4" ry="3.5" transform="rotate(0 88.2 44)" opacity="0.21"/><ellipse cx="69.3" cy="57.9" rx="6" ry="3" transform="rotate(15 69.3 57.9)" opacity="0.26"/><ellipse cx="22.8" cy="65.8" rx="3" ry="2.8" transform="rotate(0 22.8 65.8)" opacity="0.3"/><ellipse cx="90.2" cy="67.8" rx="4" ry="4" transform="rotate(0 90.2 67.8)" opacity="0.34"/><ellipse cx="60.8" cy="84.6" rx="3.4" ry="2.6" transform="rotate(-25 60.8 84.6)" opacity="0.51"/><ellipse cx="20.4" cy="94.5" rx="2.4" ry="3.5" transform="rotate(0 20.4 94.5)" opacity="0.26"/></g><g filter="url(#bl3)" opacity="0.8"></g><g filter="url(#bl2)"><ellipse cx="12.9" cy="20.6" rx="1.36" ry="1.1" transform="rotate(0 12.9 20.6)" opacity="0.47"/><ellipse cx="16.8" cy="21.2" rx="1.1" ry="0.94" transform="rotate(0 16.8 21.2)" opacity="0.55"/><ellipse cx="21.8" cy="12.3" rx="1.27" ry="1.02" transform="rotate(0 21.8 12.3)" opacity="0.55"/><ellipse cx="26.7" cy="14.3" rx="1.27" ry="1.1" transform="rotate(0 26.7 14.3)" opacity="0.55"/><ellipse cx="27.7" cy="20.2" rx="1.02" ry="1.27" transform="rotate(0 27.7 20.2)" opacity="0.47"/><ellipse cx="24" cy="10.5" rx="1.02" ry="0.85" transform="rotate(0 24 10.5)" opacity="0.39"/><ellipse cx="48.5" cy="36" rx="0.68" ry="0.68" transform="rotate(0 48.5 36)" opacity="0.63"/><ellipse cx="89" cy="43" rx="0.77" ry="0.77" transform="rotate(0 89 43)" opacity="0.63"/><ellipse cx="66" cy="56" rx="0.85" ry="0.85" transform="rotate(0 66 56)" opacity="0.47"/><ellipse cx="72.5" cy="59.5" rx="1.1" ry="1.1" transform="rotate(0 72.5 59.5)" opacity="0.47"/><ellipse cx="62.5" cy="82" rx="1.02" ry="1.02" transform="rotate(0 62.5 82)" opacity="0.39"/><ellipse cx="82.2" cy="96.1" rx="1.02" ry="1.02" transform="rotate(0 82.2 96.1)" opacity="0.78"/></g></g>
<g id="mrg-d1"><g filter="url(#spk)"><ellipse cx="21" cy="16.5" rx="7" ry="6" transform="rotate(0 21 16.5)" fill="rgb(255,125,16)" opacity="0.12"/><ellipse cx="95.1" cy="7.3" rx="3.2" ry="2.6" transform="rotate(0 95.1 7.3)" fill="rgb(255,102,16)" opacity="0.45"/><ellipse cx="47.6" cy="39" rx="2.2" ry="6" transform="rotate(10 47.6 39)" fill="rgb(255,114,16)" opacity="0.4"/><ellipse cx="9.9" cy="49.9" rx="1.4" ry="3" transform="rotate(0 9.9 49.9)" fill="rgb(255,52,16)" opacity="0.7"/><ellipse cx="88.2" cy="44" rx="4" ry="3.5" transform="rotate(0 88.2 44)" fill="rgb(255,131,16)" opacity="0.19"/><ellipse cx="69.3" cy="57.9" rx="6" ry="3" transform="rotate(15 69.3 57.9)" fill="rgb(255,122,16)" opacity="0.45"/><ellipse cx="22.8" cy="65.8" rx="3" ry="2.8" transform="rotate(0 22.8 65.8)" fill="rgb(255,80,16)" opacity="0.8"/><ellipse cx="90.2" cy="67.8" rx="4" ry="4" transform="rotate(0 90.2 67.8)" fill="rgb(255,183,16)" opacity="0.4"/><ellipse cx="60.8" cy="84.6" rx="3.4" ry="2.6" transform="rotate(-25 60.8 84.6)" fill="rgb(255,110,16)" opacity="1"/><ellipse cx="20.4" cy="94.5" rx="2.4" ry="3.5" transform="rotate(0 20.4 94.5)" fill="rgb(255,183,16)" opacity="0.17"/></g><g filter="url(#bl3)" opacity="0.8"><ellipse cx="60.8" cy="84.6" rx="3.4" ry="2.6" transform="rotate(-25 60.8 84.6)" fill="rgb(255,110,16)" opacity="1"/></g><g filter="url(#bl2)"><ellipse cx="12.9" cy="20.6" rx="1.36" ry="1.1" transform="rotate(0 12.9 20.6)" fill="rgb(255,110,16)" opacity="0.92"/><ellipse cx="16.8" cy="21.2" rx="1.1" ry="0.94" transform="rotate(0 16.8 21.2)" fill="rgb(255,142,16)" opacity="0.83"/><ellipse cx="21.8" cy="12.3" rx="1.27" ry="1.02" transform="rotate(0 21.8 12.3)" fill="rgb(255,142,16)" opacity="0.83"/><ellipse cx="26.7" cy="14.3" rx="1.27" ry="1.1" transform="rotate(0 26.7 14.3)" fill="rgb(255,128,16)" opacity="0.92"/><ellipse cx="27.7" cy="20.2" rx="1.02" ry="1.27" transform="rotate(0 27.7 20.2)" fill="rgb(255,137,16)" opacity="0.74"/><ellipse cx="24" cy="10.5" rx="1.02" ry="0.85" transform="rotate(0 24 10.5)" fill="rgb(255,114,16)" opacity="0.74"/><ellipse cx="48.5" cy="36" rx="0.68" ry="0.68" transform="rotate(0 48.5 36)" fill="rgb(112,215,16)" opacity="0.63"/><ellipse cx="89" cy="43" rx="0.77" ry="0.77" transform="rotate(0 89 43)" fill="rgb(255,183,16)" opacity="0.74"/><ellipse cx="81.2" cy="37.4" rx="0.68" ry="0.68" transform="rotate(0 81.2 37.4)" fill="rgb(255,0,16)" opacity="0.74"/><ellipse cx="66" cy="56" rx="0.85" ry="0.85" transform="rotate(0 66 56)" fill="rgb(255,122,16)" opacity="0.83"/><ellipse cx="72.5" cy="59.5" rx="1.1" ry="1.1" transform="rotate(0 72.5 59.5)" fill="rgb(255,122,16)" opacity="0.83"/><ellipse cx="62.5" cy="82" rx="1.02" ry="1.02" transform="rotate(0 62.5 82)" fill="rgb(255,102,16)" opacity="0.83"/><ellipse cx="82.2" cy="96.1" rx="1.02" ry="1.02" transform="rotate(0 82.2 96.1)" fill="rgb(255,183,16)" opacity="0.92"/></g></g>
<g id="red-d2" fill="#ff1a10"><g filter="url(#spk)"><ellipse cx="50.5" cy="13.9" rx="8" ry="7" transform="rotate(0 50.5 13.9)" opacity="0.28"/><ellipse cx="54.5" cy="14.5" rx="2.6" ry="5" transform="rotate(-15 54.5 14.5)" opacity="1"/><ellipse cx="50" cy="9" rx="5" ry="1.6" transform="rotate(0 50 9)" opacity="0.5"/><ellipse cx="100" cy="13.9" rx="2.6" ry="6" transform="rotate(10 100 13.9)" opacity="1"/><ellipse cx="45.6" cy="31.7" rx="6.5" ry="3.2" transform="rotate(-20 45.6 31.7)" opacity="1"/><ellipse cx="81.2" cy="45.6" rx="10" ry="9" transform="rotate(0 81.2 45.6)" opacity="0.3"/><ellipse cx="80" cy="47.5" rx="3.6" ry="3.2" transform="rotate(0 80 47.5)" opacity="1"/><ellipse cx="87.2" cy="62.4" rx="9" ry="7" transform="rotate(0 87.2 62.4)" opacity="0.28"/><ellipse cx="89" cy="66.5" rx="5" ry="1.8" transform="rotate(15 89 66.5)" opacity="0.8"/><ellipse cx="44.6" cy="64.4" rx="4.5" ry="5" transform="rotate(0 44.6 64.4)" opacity="0.5"/><ellipse cx="94.1" cy="89.2" rx="8" ry="8" transform="rotate(0 94.1 89.2)" opacity="0.35"/><ellipse cx="92" cy="91" rx="2" ry="5" transform="rotate(20 92 91)" opacity="0.8"/><ellipse cx="56.5" cy="95.1" rx="7" ry="4" transform="rotate(0 56.5 95.1)" opacity="0.5"/><ellipse cx="78.3" cy="1" rx="6" ry="2" transform="rotate(0 78.3 1)" opacity="0.25"/></g><g filter="url(#bl3)" opacity="0.8"><ellipse cx="80" cy="47.5" rx="3.6" ry="3.2" transform="rotate(0 80 47.5)" opacity="1"/></g><g filter="url(#bl2)"><ellipse cx="14.9" cy="30.3" rx="2.21" ry="1.87" transform="rotate(0 14.9 30.3)" opacity="0.92"/><ellipse cx="41" cy="33.5" rx="2.12" ry="1.36" transform="rotate(0 41 33.5)" opacity="0.74"/><ellipse cx="77" cy="43" rx="1.27" ry="1.27" transform="rotate(0 77 43)" opacity="0.55"/><ellipse cx="43" cy="62" rx="1.02" ry="1.02" transform="rotate(0 43 62)" opacity="0.83"/><ellipse cx="46.5" cy="66" rx="1.02" ry="1.02" transform="rotate(0 46.5 66)" opacity="0.83"/></g></g>
<g id="green-d2" fill="#10e020"><g filter="url(#spk)"><ellipse cx="50.5" cy="13.9" rx="8" ry="7" transform="rotate(0 50.5 13.9)" opacity="0.19"/><ellipse cx="54.5" cy="14.5" rx="2.6" ry="5" transform="rotate(-15 54.5 14.5)" opacity="0.77"/><ellipse cx="50" cy="9" rx="5" ry="1.6" transform="rotate(0 50 9)" opacity="0.26"/><ellipse cx="100" cy="13.9" rx="2.6" ry="6" transform="rotate(10 100 13.9)" opacity="0.51"/><ellipse cx="45.6" cy="31.7" rx="6.5" ry="3.2" transform="rotate(-20 45.6 31.7)" opacity="0.64"/><ellipse cx="81.2" cy="45.6" rx="10" ry="9" transform="rotate(0 81.2 45.6)" opacity="0.15"/><ellipse cx="80" cy="47.5" rx="3.6" ry="3.2" transform="rotate(0 80 47.5)" opacity="0.85"/><ellipse cx="87.2" cy="62.4" rx="9" ry="7" transform="rotate(0 87.2 62.4)" opacity="0.17"/><ellipse cx="89" cy="66.5" rx="5" ry="1.8" transform="rotate(15 89 66.5)" opacity="0.68"/><ellipse cx="44.6" cy="64.4" rx="4.5" ry="5" transform="rotate(0 44.6 64.4)" opacity="0.26"/><ellipse cx="94.1" cy="89.2" rx="8" ry="8" transform="rotate(0 94.1 89.2)" opacity="0.26"/><ellipse cx="92" cy="91" rx="2" ry="5" transform="rotate(20 92 91)" opacity="0.42"/><ellipse cx="56.5" cy="95.1" rx="7" ry="4" transform="rotate(0 56.5 95.1)" opacity="0.26"/><ellipse cx="78.3" cy="1" rx="6" ry="2" transform="rotate(0 78.3 1)" opacity="0.09"/></g><g filter="url(#bl3)" opacity="0.8"></g><g filter="url(#bl2)"><ellipse cx="14.9" cy="30.3" rx="2.21" ry="1.87" transform="rotate(0 14.9 30.3)" opacity="0.55"/><ellipse cx="41" cy="33.5" rx="2.12" ry="1.36" transform="rotate(0 41 33.5)" opacity="0.39"/><ellipse cx="77" cy="43" rx="1.27" ry="1.27" transform="rotate(0 77 43)" opacity="0.7"/><ellipse cx="43" cy="62" rx="1.02" ry="1.02" transform="rotate(0 43 62)" opacity="0.39"/><ellipse cx="46.5" cy="66" rx="1.02" ry="1.02" transform="rotate(0 46.5 66)" opacity="0.39"/></g></g>
<g id="mrg-d2"><g filter="url(#spk)"><ellipse cx="50.5" cy="13.9" rx="8" ry="7" transform="rotate(0 50.5 13.9)" fill="rgb(255,144,16)" opacity="0.15"/><ellipse cx="54.5" cy="14.5" rx="2.6" ry="5" transform="rotate(-15 54.5 14.5)" fill="rgb(255,164,16)" opacity="1"/><ellipse cx="50" cy="9" rx="5" ry="1.6" transform="rotate(0 50 9)" fill="rgb(255,110,16)" opacity="0.5"/><ellipse cx="100" cy="13.9" rx="2.6" ry="6" transform="rotate(10 100 13.9)" fill="rgb(255,110,16)" opacity="1"/><ellipse cx="45.6" cy="31.7" rx="6.5" ry="3.2" transform="rotate(-20 45.6 31.7)" fill="rgb(255,137,16)" opacity="1"/><ellipse cx="81.2" cy="45.6" rx="10" ry="9" transform="rotate(0 81.2 45.6)" fill="rgb(255,110,16)" opacity="0.17"/><ellipse cx="80" cy="47.5" rx="3.6" ry="3.2" transform="rotate(0 80 47.5)" fill="rgb(255,183,16)" opacity="1"/><ellipse cx="87.2" cy="62.4" rx="9" ry="7" transform="rotate(0 87.2 62.4)" fill="rgb(255,131,16)" opacity="0.15"/><ellipse cx="89" cy="66.5" rx="5" ry="1.8" transform="rotate(15 89 66.5)" fill="rgb(255,183,16)" opacity="0.8"/><ellipse cx="44.6" cy="64.4" rx="4.5" ry="5" transform="rotate(0 44.6 64.4)" fill="rgb(255,110,16)" opacity="0.5"/><ellipse cx="94.1" cy="89.2" rx="8" ry="8" transform="rotate(0 94.1 89.2)" fill="rgb(255,157,16)" opacity="0.19"/><ellipse cx="92" cy="91" rx="2" ry="5" transform="rotate(20 92 91)" fill="rgb(255,114,16)" opacity="0.8"/><ellipse cx="56.5" cy="95.1" rx="7" ry="4" transform="rotate(0 56.5 95.1)" fill="rgb(255,110,16)" opacity="0.5"/><ellipse cx="78.3" cy="1" rx="6" ry="2" transform="rotate(0 78.3 1)" fill="rgb(255,73,16)" opacity="0.14"/></g><g filter="url(#bl3)" opacity="0.8"><ellipse cx="80" cy="47.5" rx="3.6" ry="3.2" transform="rotate(0 80 47.5)" fill="rgb(255,183,16)" opacity="1"/></g><g filter="url(#bl2)"><ellipse cx="14.9" cy="30.3" rx="2.21" ry="1.87" transform="rotate(0 14.9 30.3)" fill="rgb(255,128,16)" opacity="0.92"/><ellipse cx="41" cy="33.5" rx="2.12" ry="1.36" transform="rotate(0 41 33.5)" fill="rgb(255,114,16)" opacity="0.74"/><ellipse cx="77" cy="43" rx="1.27" ry="1.27" transform="rotate(0 77 43)" fill="rgb(200,215,16)" opacity="0.7"/><ellipse cx="43" cy="62" rx="1.02" ry="1.02" transform="rotate(0 43 62)" fill="rgb(255,102,16)" opacity="0.83"/><ellipse cx="46.5" cy="66" rx="1.02" ry="1.02" transform="rotate(0 46.5 66)" fill="rgb(255,102,16)" opacity="0.83"/></g></g>
<g id="red-d3" fill="#ff1a10"><g filter="url(#spk)"><ellipse cx="16.8" cy="1.6" rx="4" ry="2" transform="rotate(0 16.8 1.6)" opacity="0.3"/><ellipse cx="92.1" cy="4.6" rx="5" ry="4" transform="rotate(0 92.1 4.6)" opacity="0.3"/><ellipse cx="45.6" cy="27.3" rx="6" ry="3.4" transform="rotate(20 45.6 27.3)" opacity="0.75"/><ellipse cx="15.9" cy="37.2" rx="3.2" ry="5" transform="rotate(0 15.9 37.2)" opacity="0.7"/><ellipse cx="64.5" cy="43.2" rx="1.8" ry="6" transform="rotate(-10 64.5 43.2)" opacity="1"/><ellipse cx="68" cy="42" rx="4.5" ry="7" transform="rotate(0 68 42)" opacity="0.25"/><ellipse cx="18.8" cy="60" rx="5.2" ry="5" transform="rotate(0 18.8 60)" opacity="0.8"/><ellipse cx="41.6" cy="71.9" rx="5" ry="3.4" transform="rotate(25 41.6 71.9)" opacity="0.75"/><ellipse cx="57.5" cy="78.9" rx="5.5" ry="5.5" transform="rotate(0 57.5 78.9)" opacity="0.32"/><ellipse cx="77.3" cy="84.8" rx="3" ry="5.5" transform="rotate(-15 77.3 84.8)" opacity="0.7"/><ellipse cx="67.4" cy="90.7" rx="3" ry="3" transform="rotate(0 67.4 90.7)" opacity="0.3"/><ellipse cx="100" cy="52" rx="1.5" ry="5" transform="rotate(0 100 52)" opacity="0.4"/></g><g filter="url(#bl3)" opacity="0.8"></g><g filter="url(#bl2)"><ellipse cx="43" cy="25.5" rx="1.02" ry="1.02" transform="rotate(0 43 25.5)" opacity="0.83"/><ellipse cx="47.5" cy="28.5" rx="1.02" ry="1.02" transform="rotate(0 47.5 28.5)" opacity="0.83"/><ellipse cx="8.3" cy="37.2" rx="0.85" ry="0.85" transform="rotate(0 8.3 37.2)" opacity="0.83"/><ellipse cx="14.5" cy="33" rx="0.85" ry="0.85" transform="rotate(0 14.5 33)" opacity="0.92"/><ellipse cx="21" cy="56.5" rx="0.94" ry="0.94" transform="rotate(0 21 56.5)" opacity="0.92"/><ellipse cx="54" cy="77" rx="0.94" ry="0.94" transform="rotate(0 54 77)" opacity="0.92"/><ellipse cx="60.5" cy="77.5" rx="0.94" ry="0.94" transform="rotate(0 60.5 77.5)" opacity="0.92"/><ellipse cx="56" cy="83" rx="0.94" ry="0.94" transform="rotate(0 56 83)" opacity="0.92"/></g></g>
<g id="green-d3" fill="#10e020"><g filter="url(#spk)"><ellipse cx="16.8" cy="1.6" rx="4" ry="2" transform="rotate(0 16.8 1.6)" opacity="0.13"/><ellipse cx="92.1" cy="4.6" rx="5" ry="4" transform="rotate(0 92.1 4.6)" opacity="0.13"/><ellipse cx="45.6" cy="27.3" rx="6" ry="3.4" transform="rotate(20 45.6 27.3)" opacity="0.26"/><ellipse cx="15.9" cy="37.2" rx="3.2" ry="5" transform="rotate(0 15.9 37.2)" opacity="0.21"/><ellipse cx="64.5" cy="43.2" rx="1.8" ry="6" transform="rotate(-10 64.5 43.2)" opacity="0.47"/><ellipse cx="68" cy="42" rx="4.5" ry="7" transform="rotate(0 68 42)" opacity="0.13"/><ellipse cx="18.8" cy="60" rx="5.2" ry="5" transform="rotate(0 18.8 60)" opacity="0.26"/><ellipse cx="41.6" cy="71.9" rx="5" ry="3.4" transform="rotate(25 41.6 71.9)" opacity="0.3"/><ellipse cx="57.5" cy="78.9" rx="5.5" ry="5.5" transform="rotate(0 57.5 78.9)" opacity="0.14"/><ellipse cx="77.3" cy="84.8" rx="3" ry="5.5" transform="rotate(-15 77.3 84.8)" opacity="0.26"/><ellipse cx="67.4" cy="90.7" rx="3" ry="3" transform="rotate(0 67.4 90.7)" opacity="0.13"/></g><g filter="url(#bl3)" opacity="0.8"></g><g filter="url(#bl2)"><ellipse cx="43" cy="25.5" rx="1.02" ry="1.02" transform="rotate(0 43 25.5)" opacity="0.7"/><ellipse cx="47.5" cy="28.5" rx="1.02" ry="1.02" transform="rotate(0 47.5 28.5)" opacity="0.7"/><ellipse cx="8.3" cy="37.2" rx="0.85" ry="0.85" transform="rotate(0 8.3 37.2)" opacity="0.55"/><ellipse cx="14.5" cy="33" rx="0.85" ry="0.85" transform="rotate(0 14.5 33)" opacity="0.63"/><ellipse cx="21" cy="56.5" rx="0.94" ry="0.94" transform="rotate(0 21 56.5)" opacity="0.63"/><ellipse cx="54" cy="77" rx="0.94" ry="0.94" transform="rotate(0 54 77)" opacity="0.7"/><ellipse cx="60.5" cy="77.5" rx="0.94" ry="0.94" transform="rotate(0 60.5 77.5)" opacity="0.7"/><ellipse cx="56" cy="83" rx="0.94" ry="0.94" transform="rotate(0 56 83)" opacity="0.7"/></g></g>
<g id="mrg-d3"><g filter="url(#spk)"><ellipse cx="16.8" cy="1.6" rx="4" ry="2" transform="rotate(0 16.8 1.6)" fill="rgb(255,91,16)" opacity="0.17"/><ellipse cx="92.1" cy="4.6" rx="5" ry="4" transform="rotate(0 92.1 4.6)" fill="rgb(255,91,16)" opacity="0.17"/><ellipse cx="45.6" cy="27.3" rx="6" ry="3.4" transform="rotate(20 45.6 27.3)" fill="rgb(255,73,16)" opacity="0.75"/><ellipse cx="15.9" cy="37.2" rx="3.2" ry="5" transform="rotate(0 15.9 37.2)" fill="rgb(255,65,16)" opacity="0.7"/><ellipse cx="64.5" cy="43.2" rx="1.8" ry="6" transform="rotate(-10 64.5 43.2)" fill="rgb(255,101,16)" opacity="1"/><ellipse cx="68" cy="42" rx="4.5" ry="7" transform="rotate(0 68 42)" fill="rgb(255,110,16)" opacity="0.14"/><ellipse cx="18.8" cy="60" rx="5.2" ry="5" transform="rotate(0 18.8 60)" fill="rgb(255,69,16)" opacity="0.8"/><ellipse cx="41.6" cy="71.9" rx="5" ry="3.4" transform="rotate(25 41.6 71.9)" fill="rgb(255,85,16)" opacity="0.75"/><ellipse cx="57.5" cy="78.9" rx="5.5" ry="5.5" transform="rotate(0 57.5 78.9)" fill="rgb(255,91,16)" opacity="0.18"/><ellipse cx="77.3" cy="84.8" rx="3" ry="5.5" transform="rotate(-15 77.3 84.8)" fill="rgb(255,78,16)" opacity="0.7"/><ellipse cx="67.4" cy="90.7" rx="3" ry="3" transform="rotate(0 67.4 90.7)" fill="rgb(255,91,16)" opacity="0.17"/><ellipse cx="100" cy="52" rx="1.5" ry="5" transform="rotate(0 100 52)" fill="rgb(255,0,16)" opacity="0.4"/></g><g filter="url(#bl3)" opacity="0.8"></g><g filter="url(#bl2)"><ellipse cx="43" cy="25.5" rx="1.02" ry="1.02" transform="rotate(0 43 25.5)" fill="rgb(255,183,16)" opacity="0.83"/><ellipse cx="47.5" cy="28.5" rx="1.02" ry="1.02" transform="rotate(0 47.5 28.5)" fill="rgb(255,183,16)" opacity="0.83"/><ellipse cx="8.3" cy="37.2" rx="0.85" ry="0.85" transform="rotate(0 8.3 37.2)" fill="rgb(255,142,16)" opacity="0.83"/><ellipse cx="14.5" cy="33" rx="0.85" ry="0.85" transform="rotate(0 14.5 33)" fill="rgb(255,146,16)" opacity="0.92"/><ellipse cx="21" cy="56.5" rx="0.94" ry="0.94" transform="rotate(0 21 56.5)" fill="rgb(255,146,16)" opacity="0.92"/><ellipse cx="54" cy="77" rx="0.94" ry="0.94" transform="rotate(0 54 77)" fill="rgb(255,164,16)" opacity="0.92"/><ellipse cx="60.5" cy="77.5" rx="0.94" ry="0.94" transform="rotate(0 60.5 77.5)" fill="rgb(255,164,16)" opacity="0.92"/><ellipse cx="56" cy="83" rx="0.94" ry="0.94" transform="rotate(0 56 83)" fill="rgb(255,164,16)" opacity="0.92"/></g></g>
</defs>
<text x="33" y="376.3" font-size="29" font-weight="bold">c</text>
<text x="169.7" y="383" font-size="15.5" font-weight="bold" text-anchor="middle" fill="#111">Hoechst</text>
<text x="274.35" y="383" font-size="15.5" font-weight="bold" text-anchor="middle" fill="#111">Lysotracker</text>
<text x="382.5" y="383" font-size="15.5" font-weight="bold" text-anchor="middle" fill="#111">Glycooligomers</text>
<text x="485.6" y="383" font-size="15.5" font-weight="bold" text-anchor="middle" fill="#111">Merge</text>
<text x="103.2" y="459.05" font-size="15.6" font-weight="bold" text-anchor="end" fill="#111" letter-spacing="0.12">Gal<tspan font-size="8.74" dy="-4.99">6</tspan></text>
<g transform="translate(118.7 403.3)" clip-path="url(#cellclip)">
<rect width="102.4" height="102.4" fill="#000"/>
<use href="#blue-c1"/>
</g>
<g transform="translate(224.15 403.3)" clip-path="url(#cellclip)">
<rect width="102.4" height="102.4" fill="#000"/>
<use href="#red-c1"/>
</g>
<g transform="translate(329.5 403.3)" clip-path="url(#cellclip)">
<rect width="102.4" height="102.4" fill="#000"/>
<use href="#green-c1"/>
</g>
<g transform="translate(434.9 403.3)" clip-path="url(#cellclip)">
<rect width="102.4" height="102.4" fill="#000"/>
<use href="#blueM-c1"/>
<use href="#mrg-c1"/>
</g>
<text x="103.2" y="564.85" font-size="15.6" font-weight="bold" text-anchor="end" fill="#111" letter-spacing="0.12">Gal<tspan font-size="8.74" dy="-4.99">4</tspan><tspan dy="4.99">Glc</tspan><tspan font-size="8.74" dy="-4.99">2</tspan></text>
<g transform="translate(118.7 509.1)" clip-path="url(#cellclip)">
<rect width="102.4" height="102.4" fill="#000"/>
<use href="#blue-c2"/>
</g>
<g transform="translate(224.15 509.1)" clip-path="url(#cellclip)">
<rect width="102.4" height="102.4" fill="#000"/>
<use href="#red-c2"/>
</g>
<g transform="translate(329.5 509.1)" clip-path="url(#cellclip)">
<rect width="102.4" height="102.4" fill="#000"/>
<use href="#green-c2"/>
</g>
<g transform="translate(434.9 509.1)" clip-path="url(#cellclip)">
<rect width="102.4" height="102.4" fill="#000"/>
<use href="#blueM-c2"/>
<use href="#mrg-c2"/>
</g>
<text x="103.2" y="670.05" font-size="15.6" font-weight="bold" text-anchor="end" fill="#111" letter-spacing="0.12">Glc<tspan font-size="8.74" dy="-4.99">6</tspan></text>
<g transform="translate(118.7 614.3)" clip-path="url(#cellclip)">
<rect width="102.4" height="102.4" fill="#000"/>
<use href="#blue-c1"/>
</g>
<g transform="translate(224.15 614.3)" clip-path="url(#cellclip)">
<rect width="102.4" height="102.4" fill="#000"/>
<use href="#red-c1"/>
</g>
<g transform="translate(329.5 614.3)" clip-path="url(#cellclip)">
<rect width="102.4" height="102.4" fill="#000"/>
<use href="#green-c1"/>
</g>
<g transform="translate(434.9 614.3)" clip-path="url(#cellclip)">
<rect width="102.4" height="102.4" fill="#000"/>
<use href="#blueM-c1"/>
<use href="#mrg-c1"/>
</g>
<rect x="495.8" y="703.8" width="31.8" height="3.6" fill="#fff"/>
<text x="511.5" y="699.9" font-size="10.3" font-weight="bold" text-anchor="middle" fill="#fff">30 μm</text>
<text x="327" y="753.8" font-size="19.5" font-weight="bold" text-anchor="middle" fill="#111">4 h</text>
<text x="592.5" y="376.3" font-size="29" font-weight="bold">d</text>
<text x="697.3" y="383" font-size="15.5" font-weight="bold" text-anchor="middle" fill="#111">Hoechst</text>
<text x="801.95" y="383" font-size="15.5" font-weight="bold" text-anchor="middle" fill="#111">Lysotracker</text>
<text x="910.1" y="383" font-size="15.5" font-weight="bold" text-anchor="middle" fill="#111">Glycooligomers</text>
<text x="1013.2" y="383" font-size="15.5" font-weight="bold" text-anchor="middle" fill="#111">Merge</text>
<text x="631.4" y="459.05" font-size="15.6" font-weight="bold" text-anchor="end" fill="#111" letter-spacing="0.12">Gal<tspan font-size="8.74" dy="-4.99">6</tspan></text>
<g transform="translate(646.3 403.3)" clip-path="url(#cellclip)">
<rect width="102.4" height="102.4" fill="#000"/>
<use href="#blue-d1"/>
</g>
<g transform="translate(751.75 403.3)" clip-path="url(#cellclip)">
<rect width="102.4" height="102.4" fill="#000"/>
<use href="#red-d1"/>
</g>
<g transform="translate(857.1 403.3)" clip-path="url(#cellclip)">
<rect width="102.4" height="102.4" fill="#000"/>
<use href="#green-d1"/>
</g>
<g transform="translate(962.5 403.3)" clip-path="url(#cellclip)">
<rect width="102.4" height="102.4" fill="#000"/>
<use href="#blueM-d1"/>
<use href="#mrg-d1"/>
</g>
<text x="631.4" y="564.85" font-size="15.6" font-weight="bold" text-anchor="end" fill="#111" letter-spacing="0.12">Gal<tspan font-size="8.74" dy="-4.99">4</tspan><tspan dy="4.99">Glc</tspan><tspan font-size="8.74" dy="-4.99">2</tspan></text>
<g transform="translate(646.3 509.1)" clip-path="url(#cellclip)">
<rect width="102.4" height="102.4" fill="#000"/>
<use href="#blue-d2"/>
</g>
<g transform="translate(751.75 509.1)" clip-path="url(#cellclip)">
<rect width="102.4" height="102.4" fill="#000"/>
<use href="#red-d2"/>
</g>
<g transform="translate(857.1 509.1)" clip-path="url(#cellclip)">
<rect width="102.4" height="102.4" fill="#000"/>
<use href="#green-d2"/>
</g>
<g transform="translate(962.5 509.1)" clip-path="url(#cellclip)">
<rect width="102.4" height="102.4" fill="#000"/>
<use href="#blueM-d2"/>
<use href="#mrg-d2"/>
</g>
<text x="631.4" y="670.05" font-size="15.6" font-weight="bold" text-anchor="end" fill="#111" letter-spacing="0.12">Glc<tspan font-size="8.74" dy="-4.99">6</tspan></text>
<g transform="translate(646.3 614.3)" clip-path="url(#cellclip)">
<rect width="102.4" height="102.4" fill="#000"/>
<use href="#blue-d3"/>
</g>
<g transform="translate(751.75 614.3)" clip-path="url(#cellclip)">
<rect width="102.4" height="102.4" fill="#000"/>
<use href="#red-d3"/>
</g>
<g transform="translate(857.1 614.3)" clip-path="url(#cellclip)">
<rect width="102.4" height="102.4" fill="#000"/>
<use href="#green-d3"/>
</g>
<g transform="translate(962.5 614.3)" clip-path="url(#cellclip)">
<rect width="102.4" height="102.4" fill="#000"/>
<use href="#blueM-d3"/>
<use href="#mrg-d3"/>
</g>
<rect x="1021.6" y="702.4" width="31.8" height="3.6" fill="#fff"/>
<text x="1037.3" y="698.5" font-size="10.3" font-weight="bold" text-anchor="middle" fill="#fff">30 μm</text>
<text x="854.3" y="753.8" font-size="19.5" font-weight="bold" text-anchor="middle" fill="#111">8 h</text>
</g>
<g id="panel-e">
<defs>
<filter id="pb0" x="-60%" y="-60%" width="220%" height="220%"><feGaussianBlur stdDeviation="0.6"/></filter>
<filter id="pb1" x="-60%" y="-60%" width="220%" height="220%"><feGaussianBlur stdDeviation="1.2"/></filter>
<filter id="pb2" x="-60%" y="-60%" width="220%" height="220%"><feGaussianBlur stdDeviation="2.2"/></filter>
<filter id="pb3" x="-60%" y="-60%" width="220%" height="220%"><feGaussianBlur stdDeviation="3.4"/></filter>
</defs>
<text x="39.5" y="815" font-size="29" font-weight="bold">e</text>
<text x="161.6" y="821.2" font-size="16" font-weight="bold" text-anchor="middle" fill="#111" letter-spacing="0.12">Gal<tspan font-size="8.96" dy="-5.12">6</tspan></text>
<text x="246" y="821.2" font-size="16" font-weight="bold" text-anchor="middle" fill="#111" letter-spacing="0.12">Gal<tspan font-size="8.96" dy="-5.12">4</tspan><tspan dy="5.12">Glc</tspan><tspan font-size="8.96" dy="-5.12">2</tspan></text>
<text x="329.8" y="821.2" font-size="16" font-weight="bold" text-anchor="middle" fill="#111" letter-spacing="0.12">Glc<tspan font-size="8.96" dy="-5.12">6</tspan></text>
<text x="108.3" y="873.8" font-size="16" font-weight="bold" text-anchor="end" fill="#111">4h</text>
<text x="108.3" y="940" font-size="16" font-weight="bold" text-anchor="end" fill="#111">8h</text>
<g transform="translate(120.2 837.4)">
<rect width="82.3" height="64.2" fill="#2c2c2c"/>
<path d="M2 4V59.2" stroke="#4a4a4a" stroke-width="1.2" stroke-dasharray="0.8 5.2" fill="none"/>
<path d="M6 61H80.3" stroke="#4a4a4a" stroke-width="1.4" stroke-dasharray="0.8 6.6" fill="none"/>
<svg x="3.8" y="2.0" width="77.5" height="57.4" viewBox="0 0 77.5 57.4" overflow="hidden">
<rect width="77.5" height="57.4" fill="#000"/>
<g transform="translate(4.2 51.8) rotate(-81)">
<ellipse cx="24.84" cy="0" rx="27" ry="6" fill="#0a12a0" opacity="0.9" filter="url(#pb3)"/>
<ellipse cx="12.96" cy="0" rx="19.44" ry="11" fill="#0a30e8" opacity="1" filter="url(#pb3)"/>
<ellipse cx="8.1" cy="0" rx="13.5" ry="8.25" fill="#10a8ff" opacity="1" filter="url(#pb2)"/>
<ellipse cx="4.86" cy="0" rx="9.18" ry="6.25" fill="#30f0a0" opacity="1" filter="url(#pb2)"/>
<ellipse cx="2.7" cy="0" rx="6.48" ry="4.75" fill="#a0f030" opacity="1" filter="url(#pb1)"/>
</g>
<g transform="rotate(0 4.2 51.8)">
<ellipse cx="4.2" cy="51.8" rx="4.4" ry="5.9" fill="#fff020" filter="url(#pb1)"/>
<ellipse cx="4.2" cy="51.8" rx="3.3" ry="4.8" fill="#ff1408" filter="url(#pb0)"/>
</g>
<path d="M2 57.4L24 0" stroke="#8890a0" stroke-width="0.5" fill="none" opacity="0.3"/>
<path d="M14 54.4L77.5 41.4" stroke="#909090" stroke-width="0.5" fill="none" opacity="0.3"/>
</svg>
<rect x="7" y="0.5" width="4" height="1" fill="#a02828"/>
<rect x="49.38" y="61.6" width="3" height="1.2" fill="#30a030"/>
</g>
<text x="199.2" y="854.6" font-size="15.8" text-anchor="end" fill="#f0f0f0">0.6087</text>
<g transform="translate(204.6 837.4)">
<rect width="82.3" height="64.2" fill="#2c2c2c"/>
<path d="M2 4V59.2" stroke="#4a4a4a" stroke-width="1.2" stroke-dasharray="0.8 5.2" fill="none"/>
<path d="M6 61H80.3" stroke="#4a4a4a" stroke-width="1.4" stroke-dasharray="0.8 6.6" fill="none"/>
<svg x="3.8" y="2.0" width="77.5" height="57.4" viewBox="0 0 77.5 57.4" overflow="hidden">
<rect width="77.5" height="57.4" fill="#000"/>
<g transform="translate(6.2 52.6) rotate(-57)">
<ellipse cx="20.24" cy="0" rx="22" ry="6.96" fill="#0a12a0" opacity="0.9" filter="url(#pb3)"/>
<ellipse cx="10.56" cy="0" rx="15.84" ry="12.76" fill="#0a30e8" opacity="1" filter="url(#pb3)"/>
<ellipse cx="6.6" cy="0" rx="11" ry="9.57" fill="#10a8ff" opacity="1" filter="url(#pb2)"/>
<ellipse cx="3.96" cy="0" rx="7.48" ry="7.25" fill="#30f0a0" opacity="1" filter="url(#pb2)"/>
<ellipse cx="2.2" cy="0" rx="5.28" ry="5.51" fill="#a0f030" opacity="1" filter="url(#pb1)"/>
</g>
<g transform="rotate(-22 6.2 52.6)">
<ellipse cx="6.2" cy="52.6" rx="7.3" ry="5.4" fill="#fff020" filter="url(#pb1)"/>
<ellipse cx="6.2" cy="52.6" rx="6.2" ry="4.3" fill="#ff1408" filter="url(#pb0)"/>
</g>
<path d="M2 57.4L24 0" stroke="#8890a0" stroke-width="0.5" fill="none" opacity="0.3"/>
<path d="M14 54.4L77.5 41.4" stroke="#909090" stroke-width="0.5" fill="none" opacity="0.3"/>
</svg>
<rect x="7" y="0.5" width="4" height="1" fill="#a02828"/>
<rect x="49.38" y="61.6" width="3" height="1.2" fill="#30a030"/>
</g>
<text x="284" y="854.6" font-size="15.8" text-anchor="end" fill="#f0f0f0">0.7652</text>
<g transform="translate(289.2 837.4)">
<rect width="82.3" height="64.2" fill="#2c2c2c"/>
<path d="M2 4V59.2" stroke="#4a4a4a" stroke-width="1.2" stroke-dasharray="0.8 5.2" fill="none"/>
<path d="M6 61H80.3" stroke="#4a4a4a" stroke-width="1.4" stroke-dasharray="0.8 6.6" fill="none"/>
<svg x="3.8" y="2.0" width="77.5" height="57.4" viewBox="0 0 77.5 57.4" overflow="hidden">
<rect width="77.5" height="57.4" fill="#000"/>
<g transform="translate(6.4 52.4) rotate(-68)">
<ellipse cx="21.62" cy="0" rx="23.5" ry="6.24" fill="#0a12a0" opacity="0.9" filter="url(#pb3)"/>
<ellipse cx="11.28" cy="0" rx="16.92" ry="11.44" fill="#0a30e8" opacity="1" filter="url(#pb3)"/>
<ellipse cx="7.05" cy="0" rx="11.75" ry="8.58" fill="#10a8ff" opacity="1" filter="url(#pb2)"/>
<ellipse cx="4.23" cy="0" rx="7.99" ry="6.5" fill="#30f0a0" opacity="1" filter="url(#pb2)"/>
<ellipse cx="2.35" cy="0" rx="5.64" ry="4.94" fill="#a0f030" opacity="1" filter="url(#pb1)"/>
</g>
<g transform="rotate(-10 6.4 52.4)">
<ellipse cx="6.4" cy="52.4" rx="5.9" ry="5.1" fill="#fff020" filter="url(#pb1)"/>
<ellipse cx="6.4" cy="52.4" rx="4.8" ry="4" fill="#ff1408" filter="url(#pb0)"/>
</g>
<path d="M2 57.4L24 0" stroke="#8890a0" stroke-width="0.5" fill="none" opacity="0.3"/>
<path d="M14 54.4L77.5 41.4" stroke="#909090" stroke-width="0.5" fill="none" opacity="0.3"/>
</svg>
<rect x="7" y="0.5" width="4" height="1" fill="#a02828"/>
<rect x="49.38" y="61.6" width="3" height="1.2" fill="#30a030"/>
</g>
<text x="367.4" y="854.6" font-size="15.8" text-anchor="end" fill="#f0f0f0">0.7432</text>
<g transform="translate(120.2 903.6)">
<rect width="82.3" height="64.2" fill="#2c2c2c"/>
<path d="M2 4V59.2" stroke="#4a4a4a" stroke-width="1.2" stroke-dasharray="0.8 5.2" fill="none"/>
<path d="M6 61H80.3" stroke="#4a4a4a" stroke-width="1.4" stroke-dasharray="0.8 6.6" fill="none"/>
<svg x="3.8" y="2.0" width="77.5" height="57.4" viewBox="0 0 77.5 57.4" overflow="hidden">
<rect width="77.5" height="57.4" fill="#000"/>
<g transform="translate(4.6 52) rotate(-66)">
<ellipse cx="22.08" cy="0" rx="24" ry="9.12" fill="#0a12a0" opacity="0.9" filter="url(#pb3)"/>
<ellipse cx="11.52" cy="0" rx="17.28" ry="16.72" fill="#0a30e8" opacity="1" filter="url(#pb3)"/>
<ellipse cx="6.48" cy="0" rx="10.8" ry="12.54" fill="#10a8ff" opacity="1" filter="url(#pb2)"/>
<ellipse cx="3.89" cy="0" rx="7.34" ry="9.5" fill="#30f0a0" opacity="1" filter="url(#pb2)"/>
<ellipse cx="2.16" cy="0" rx="5.18" ry="7.22" fill="#a0f030" opacity="1" filter="url(#pb1)"/>
</g>
<g transform="rotate(0 4.6 52)">
<ellipse cx="4.6" cy="52" rx="5.5" ry="4.9" fill="#fff020" filter="url(#pb1)"/>
<ellipse cx="4.6" cy="52" rx="4.4" ry="3.8" fill="#ff1408" filter="url(#pb0)"/>
</g>
<path d="M2 57.4L24 0" stroke="#8890a0" stroke-width="0.5" fill="none" opacity="0.3"/>
<path d="M14 54.4L77.5 41.4" stroke="#909090" stroke-width="0.5" fill="none" opacity="0.3"/>
</svg>
<rect x="7" y="0.5" width="4" height="1" fill="#a02828"/>
<rect x="49.38" y="61.6" width="3" height="1.2" fill="#30a030"/>
</g>
<text x="200.3" y="920.8" font-size="15.8" text-anchor="end" fill="#f0f0f0">0.7558</text>
<g transform="translate(204.6 903.6)">
<rect width="82.3" height="64.2" fill="#2c2c2c"/>
<path d="M2 4V59.2" stroke="#4a4a4a" stroke-width="1.2" stroke-dasharray="0.8 5.2" fill="none"/>
<path d="M6 61H80.3" stroke="#4a4a4a" stroke-width="1.4" stroke-dasharray="0.8 6.6" fill="none"/>
<svg x="3.8" y="2.0" width="77.5" height="57.4" viewBox="0 0 77.5 57.4" overflow="hidden">
<rect width="77.5" height="57.4" fill="#000"/>
<g transform="translate(5.2 52.8) rotate(-40)">
<ellipse cx="23" cy="0" rx="25" ry="7.68" fill="#0a12a0" opacity="0.9" filter="url(#pb3)"/>
<ellipse cx="12" cy="0" rx="18" ry="14.08" fill="#0a30e8" opacity="1" filter="url(#pb3)"/>
<ellipse cx="10.5" cy="0" rx="17.5" ry="10.56" fill="#10a8ff" opacity="1" filter="url(#pb2)"/>
<ellipse cx="6.3" cy="0" rx="11.9" ry="8" fill="#30f0a0" opacity="1" filter="url(#pb2)"/>
<ellipse cx="3.5" cy="0" rx="8.4" ry="6.08" fill="#a0f030" opacity="1" filter="url(#pb1)"/>
</g>
<g transform="rotate(-5 5.2 52.8)">
<ellipse cx="5.2" cy="52.8" rx="6.3" ry="4.5" fill="#fff020" filter="url(#pb1)"/>
<ellipse cx="5.2" cy="52.8" rx="5.2" ry="3.4" fill="#ff1408" filter="url(#pb0)"/>
</g>
<path d="M2 57.4L24 0" stroke="#8890a0" stroke-width="0.5" fill="none" opacity="0.3"/>
<path d="M14 54.4L77.5 41.4" stroke="#909090" stroke-width="0.5" fill="none" opacity="0.3"/>
</svg>
<rect x="7" y="0.5" width="4" height="1" fill="#a02828"/>
<rect x="49.38" y="61.6" width="3" height="1.2" fill="#30a030"/>
</g>
<text x="283" y="920.8" font-size="15.8" text-anchor="end" fill="#f0f0f0">0.8071</text>
<g transform="translate(289.2 903.6)">
<rect width="82.3" height="64.2" fill="#2c2c2c"/>
<path d="M2 4V59.2" stroke="#4a4a4a" stroke-width="1.2" stroke-dasharray="0.8 5.2" fill="none"/>
<path d="M6 61H80.3" stroke="#4a4a4a" stroke-width="1.4" stroke-dasharray="0.8 6.6" fill="none"/>
<svg x="3.8" y="2.0" width="77.5" height="57.4" viewBox="0 0 77.5 57.4" overflow="hidden">
<rect width="77.5" height="57.4" fill="#000"/>
<g transform="translate(4.4 50.2) rotate(-70)">
<ellipse cx="23.92" cy="0" rx="26" ry="5.04" fill="#0a12a0" opacity="0.9" filter="url(#pb3)"/>
<ellipse cx="12.48" cy="0" rx="18.72" ry="9.24" fill="#0a30e8" opacity="1" filter="url(#pb3)"/>
<ellipse cx="7.8" cy="0" rx="13" ry="6.93" fill="#10a8ff" opacity="1" filter="url(#pb2)"/>
<ellipse cx="4.68" cy="0" rx="8.84" ry="5.25" fill="#30f0a0" opacity="1" filter="url(#pb2)"/>
<ellipse cx="2.6" cy="0" rx="6.24" ry="3.99" fill="#a0f030" opacity="1" filter="url(#pb1)"/>
</g>
<g transform="rotate(0 4.4 50.2)">
<ellipse cx="4.4" cy="50.2" rx="5.3" ry="6.5" fill="#fff020" filter="url(#pb1)"/>
<ellipse cx="4.4" cy="50.2" rx="4.2" ry="5.4" fill="#ff1408" filter="url(#pb0)"/>
</g>
<path d="M2 57.4L24 0" stroke="#8890a0" stroke-width="0.5" fill="none" opacity="0.3"/>
<path d="M14 54.4L77.5 41.4" stroke="#909090" stroke-width="0.5" fill="none" opacity="0.3"/>
</svg>
<rect x="7" y="0.5" width="4" height="1" fill="#a02828"/>
<rect x="49.38" y="61.6" width="3" height="1.2" fill="#30a030"/>
</g>
<text x="367.8" y="920.8" font-size="15.8" text-anchor="end" fill="#f0f0f0">0.7744</text>
<path d="M138.8 1006V1152H373.8" fill="none" stroke="#111" stroke-width="2"/>
<path d="M132.3 1152H138.8" stroke="#111" stroke-width="2"/>
<text x="131" y="1157.7" font-size="16" font-weight="bold" text-anchor="end" fill="#111">0.0</text>
<path d="M132.3 1123H138.8" stroke="#111" stroke-width="2"/>
<text x="131" y="1128.7" font-size="16" font-weight="bold" text-anchor="end" fill="#111">0.2</text>
<path d="M132.3 1094H138.8" stroke="#111" stroke-width="2"/>
<text x="131" y="1099.7" font-size="16" font-weight="bold" text-anchor="end" fill="#111">0.4</text>
<path d="M132.3 1065H138.8" stroke="#111" stroke-width="2"/>
<text x="131" y="1070.7" font-size="16" font-weight="bold" text-anchor="end" fill="#111">0.6</text>
<path d="M132.3 1036H138.8" stroke="#111" stroke-width="2"/>
<text x="131" y="1041.7" font-size="16" font-weight="bold" text-anchor="end" fill="#111">0.8</text>
<path d="M132.3 1007H138.8" stroke="#111" stroke-width="2"/>
<text x="131" y="1012.7" font-size="16" font-weight="bold" text-anchor="end" fill="#111">1.0</text>
<text transform="translate(98 1075) rotate(-90)" font-size="16.2" font-weight="bold" text-anchor="middle" fill="#111">Pearson's Correlation</text>
<rect x="154.4" y="1069.93" width="23.9" height="81.07" fill="#fbc6a2" stroke="#f9b890" stroke-width="1.2"/>
<path d="M166.3 1067V1069.93M160.1 1067h12.4" stroke="#f9b890" stroke-width="1.2" fill="none"/>
<rect x="187" y="1051.95" width="23.9" height="99.05" fill="#62a0a2" stroke="#2c7c7e" stroke-width="1.2"/>
<path d="M198.9 1045.8V1057.5M192.7 1045.8h12.4M192.7 1057.5h12.4" stroke="#2c7c7e" stroke-width="1.2" fill="none"/>
<rect x="219.5" y="1054.27" width="23.9" height="96.73" fill="#9c9c9c" stroke="#707070" stroke-width="1.2"/>
<path d="M231.4 1049.3V1058.8M225.2 1049.3h12.4M225.2 1058.8h12.4" stroke="#707070" stroke-width="1.2" fill="none"/>
<rect x="267.4" y="1045.42" width="23.9" height="105.58" fill="#fbc6a2" stroke="#f9b890" stroke-width="1.2"/>
<path d="M279.3 1044.4V1045.42M273.1 1044.4h12.4" stroke="#f9b890" stroke-width="1.2" fill="none"/>
<rect x="300" y="1043.25" width="23.9" height="107.75" fill="#62a0a2" stroke="#2c7c7e" stroke-width="1.2"/>
<path d="M311.9 1039.3V1047M305.7 1039.3h12.4M305.7 1047h12.4" stroke="#2c7c7e" stroke-width="1.2" fill="none"/>
<rect x="332.6" y="1044.27" width="23.9" height="106.73" fill="#9c9c9c" stroke="#707070" stroke-width="1.2"/>
<path d="M344.5 1041.8V1046.3M338.3 1041.8h12.4M338.3 1046.3h12.4" stroke="#707070" stroke-width="1.2" fill="none"/>
<path d="M138.8 1152H373.8" stroke="#111" stroke-width="2"/>
<path d="M198.8 1152V1157.5" stroke="#111" stroke-width="2"/>
<text transform="translate(202.3 1171) rotate(-33)" font-size="16" font-weight="bold" text-anchor="end" fill="#111">4h</text>
<path d="M311.8 1152V1157.5" stroke="#111" stroke-width="2"/>
<text transform="translate(315.3 1171) rotate(-33)" font-size="16" font-weight="bold" text-anchor="end" fill="#111">8h</text>
<text x="255.6" y="1194.5" font-size="16" font-weight="bold" text-anchor="middle" fill="#111">Time</text>
<rect x="379.8" y="1004.3" width="12" height="12.6" fill="#fbc6a2" stroke="#fbc6a2" stroke-width="1.1"/>
<text x="399.3" y="1017.5" font-size="16.3" font-weight="bold" text-anchor="start" fill="#111" >Gal<tspan font-size="11.57" dy="-7.5">6</tspan></text>
<rect x="379.8" y="1021.3" width="12" height="12.6" fill="#62a0a2" stroke="#2c7c7e" stroke-width="1.1"/>
<text x="399.3" y="1034.5" font-size="16.3" font-weight="bold" text-anchor="start" fill="#111" >Gal<tspan font-size="11.57" dy="-7.5">4</tspan><tspan dy="7.5">Glc</tspan><tspan font-size="11.57" dy="-7.5">2</tspan></text>
<rect x="379.8" y="1038.3" width="12" height="12.6" fill="#9c9c9c" stroke="#707070" stroke-width="1.1"/>
<text x="399.3" y="1051.5" font-size="16.3" font-weight="bold" text-anchor="start" fill="#111" >Glc<tspan font-size="11.57" dy="-7.5">6</tspan></text>
</g>
<g id="panel-f">
<text x="471.5" y="814.5" font-size="29" font-weight="bold">f</text>
<text x="599.6" y="818.8" font-size="20.1" font-weight="bold" text-anchor="middle" fill="#111" >Gal<tspan font-size="14.07" dy="-9.05">6</tspan></text>
<text x="745.4" y="818.8" font-size="20.1" font-weight="bold" text-anchor="middle" fill="#111" >Gal<tspan font-size="14.07" dy="-9.05">4</tspan><tspan dy="9.05">Glc</tspan><tspan font-size="14.07" dy="-9.05">2</tspan></text>
<text x="897" y="818.8" font-size="20.1" font-weight="bold" text-anchor="middle" fill="#111" >Glc<tspan font-size="14.07" dy="-9.05">6</tspan></text>
<text x="495.3" y="906.3" font-size="19.5" font-weight="bold" fill="#2a2a2a">4h</text>
<text x="495.3" y="1070.8" font-size="19.5" font-weight="bold" fill="#2a2a2a">8h</text>
<g>
<rect x="537.6" y="833.9" width="126.6" height="127" fill="#fff"/>
<svg x="537.6" y="833.9" width="126.6" height="127.5" viewBox="537.6 833.9 126.6 127.5" overflow="hidden">
<path d="M537.6 884.9H664.2" stroke="#f25050" stroke-width="0.8" fill="none"/>
<path d="M556.0 884.9L557.2 884.7L558.3 884.6L559.5 884.5L560.6 884.2L561.8 883.9L562.9 883.6L564.1 883.2L565.2 882.5L566.4 881.4L567.5 879.4L568.7 878.1L569.8 875.7L571.0 873.2L572.1 869.7L573.3 868.0L574.4 865.7L575.6 861.1L576.7 858.4L577.9 856.5L579.0 851.3L580.2 848.3L581.3 846.3L582.5 843.8L583.6 843.6L584.8 841.9L585.9 841.8L587.1 843.8L588.2 846.7L589.4 851.1L590.5 853.7L591.7 857.2L592.8 860.3L594.0 864.1L595.1 869.5L596.3 872.1L597.4 876.3L598.6 878.3L599.7 880.9L600.9 882.7L602.1 883.2L603.2 883.9L604.4 884.2L605.5 884.5L606.7 884.7L607.8 884.9" fill="#ff8a8a" fill-opacity="0.86" stroke="#f25050" stroke-width="1.2" stroke-linejoin="round"/>
<path d="M537.6 910.3H664.2" stroke="#8080f4" stroke-width="0.8" fill="none"/>
<path d="M569.8 910.3L571.0 910.1L572.1 910.1L573.3 910.1L574.4 910.0L575.6 909.9L576.7 909.9L577.9 909.8L579.0 909.6L580.2 909.5L581.3 909.4L582.5 909.2L583.6 909.1L584.8 908.8L585.9 908.6L587.1 908.5L588.2 908.3L589.4 907.7L590.5 907.6L591.7 907.1L592.8 906.2L594.0 903.9L595.1 901.2L596.3 899.6L597.4 895.1L598.6 892.0L599.7 891.5L600.9 888.1L602.1 883.0L603.2 878.3L604.4 876.8L605.5 874.3L606.7 871.0L607.8 870.1L609.0 867.3L610.1 866.1L611.3 867.1L612.4 869.5L613.6 871.6L614.7 874.0L615.9 876.1L617.0 879.6L618.2 883.6L619.3 884.3L620.5 888.4L621.6 891.2L622.8 895.5L623.9 896.1L625.1 899.1L626.2 902.7L627.4 904.3L628.5 905.8L629.7 907.4L630.8 908.1L632.0 908.8L633.1 909.1L634.3 909.5L635.4 909.8L636.6 909.9L637.7 910.1L638.9 910.1L640.0 910.3" fill="#a6a6ff" fill-opacity="0.86" stroke="#8080f4" stroke-width="1.2" stroke-linejoin="round"/>
<path d="M537.6 935.6H664.2" stroke="#d6d628" stroke-width="0.8" fill="none"/>
<path d="M565.2 935.6L566.4 935.4L567.5 935.3L568.7 935.2L569.8 935.0L571.0 934.8L572.1 934.7L573.3 934.3L574.4 933.7L575.6 933.1L576.7 932.1L577.9 930.8L579.0 928.8L580.2 926.8L581.3 924.7L582.5 923.3L583.6 920.1L584.8 917.6L585.9 913.7L587.1 909.8L588.2 907.0L589.4 905.3L590.5 902.7L591.7 900.5L592.8 898.7L594.0 896.5L595.1 893.2L596.3 891.9L597.4 890.8L598.6 890.8L599.7 892.6L600.9 894.2L602.1 897.5L603.2 900.8L604.4 902.7L605.5 906.4L606.7 908.4L607.8 910.0L609.0 914.2L610.1 918.7L611.3 919.5L612.4 922.6L613.6 925.2L614.7 927.2L615.9 929.5L617.0 931.3L618.2 933.0L619.3 933.4L620.5 934.0L621.6 934.6L622.8 934.8L623.9 935.0L625.1 935.2L626.2 935.3L627.4 935.4L628.5 935.6" fill="#e2e23c" fill-opacity="0.86" stroke="#d6d628" stroke-width="1.2" stroke-linejoin="round"/>
<path d="M537.6 960.9H664.2" stroke="#0f9a50" stroke-width="0.8" fill="none"/>
<path d="M571.0 960.9L572.1 960.7L573.3 960.6L574.4 960.4L575.6 960.2L576.7 959.8L577.9 959.5L579.0 958.8L580.2 957.9L581.3 956.7L582.5 955.0L583.6 951.7L584.8 950.4L585.9 948.0L587.1 942.8L588.2 941.5L589.4 937.1L590.5 935.1L591.7 931.4L592.8 930.0L594.0 925.7L595.1 922.6L596.3 921.8L597.4 920.1L598.6 919.7L599.7 921.5L600.9 921.9L602.1 924.5L603.2 928.0L604.4 931.7L605.5 932.0L606.7 936.4L607.8 938.8L609.0 941.4L610.1 944.9L611.3 947.2L612.4 951.0L613.6 952.6L614.7 955.1L615.9 956.5L617.0 958.2L618.2 959.2L619.3 959.6L620.5 960.0L621.6 960.2L622.8 960.5L623.9 960.6L625.1 960.7L626.2 960.9" fill="#48c486" fill-opacity="0.86" stroke="#0f9a50" stroke-width="1.5" stroke-linejoin="round"/>
</svg>
<rect x="537.6" y="833.9" width="126.6" height="127" fill="none" stroke="#808080" stroke-width="1"/>
<path d="M545.38 960.9v1.7M551.23 960.9v1.7M556.17 960.9v1.7M560.45 960.9v1.7M564.22 960.9v1.7M567.6 960.9v3.3M589.82 960.9v1.7M602.81 960.9v1.7M612.03 960.9v1.7M619.18 960.9v1.7M625.03 960.9v1.7M629.97 960.9v1.7M634.25 960.9v1.7M638.02 960.9v1.7M641.4 960.9v3.3M663.62 960.9v1.7" stroke="#333" stroke-width="0.8" fill="none"/>
<text x="561" y="985.4" font-size="11.2" font-weight="bold" fill="#222">10<tspan font-size="10.6" dy="-7" dx="0.7">3</tspan></text>
<text x="634.8" y="985.4" font-size="11.2" font-weight="bold" fill="#222">10<tspan font-size="10.6" dy="-7" dx="0.7">4</tspan></text>
</g>
<g>
<rect x="685.8" y="833.9" width="126.6" height="127" fill="#fff"/>
<svg x="685.8" y="833.9" width="126.6" height="127.5" viewBox="685.8 833.9 126.6 127.5" overflow="hidden">
<path d="M685.8 884.9H812.4" stroke="#f25050" stroke-width="0.8" fill="none"/>
<path d="M699.6 884.9L700.8 884.7L701.9 884.7L703.1 884.6L704.2 884.5L705.4 884.3L706.5 884.1L707.7 883.9L708.8 883.6L710.0 883.0L711.1 882.5L712.3 881.9L713.4 880.9L714.6 879.2L715.7 877.8L716.9 876.2L718.0 872.9L719.2 870.5L720.3 870.7L721.5 865.9L722.6 864.2L723.8 862.3L724.9 859.9L726.1 856.0L727.2 854.0L728.4 850.7L729.5 848.4L730.7 847.9L731.8 843.8L733.0 841.5L734.1 841.1L735.3 840.5L736.4 841.1L737.6 842.6L738.7 845.4L739.9 845.6L741.0 850.9L742.2 854.3L743.3 856.4L744.5 862.0L745.6 865.0L746.8 868.8L747.9 872.9L749.1 874.7L750.3 877.0L751.4 880.0L752.6 881.9L753.7 882.8L754.9 883.5L756.0 883.9L757.2 884.2L758.3 884.5L759.5 884.6L760.6 884.7L761.8 884.9" fill="#ff8a8a" fill-opacity="0.86" stroke="#f25050" stroke-width="1.2" stroke-linejoin="round"/>
<path d="M685.8 910.3H812.4" stroke="#8080f4" stroke-width="0.8" fill="none"/>
<path d="M712.3 910.3L713.4 910.1L714.6 910.1L715.7 910.0L716.9 910.0L718.0 909.9L719.2 909.9L720.3 909.8L721.5 909.7L722.6 909.6L723.8 909.5L724.9 909.4L726.1 909.3L727.2 909.1L728.4 909.1L729.5 908.8L730.7 908.6L731.8 908.4L733.0 908.4L734.1 908.1L735.3 908.0L736.4 907.4L737.6 907.2L738.7 906.4L739.9 903.9L741.0 902.1L742.2 900.5L743.3 898.4L744.5 897.3L745.6 895.4L746.8 891.2L747.9 890.0L749.1 886.8L750.3 883.9L751.4 881.8L752.6 877.7L753.7 875.3L754.9 871.7L756.0 870.8L757.2 869.0L758.3 867.9L759.5 866.8L760.6 867.9L761.8 870.3L762.9 870.2L764.1 873.0L765.2 876.7L766.4 880.5L767.5 885.3L768.7 889.1L769.8 892.3L771.0 896.1L772.1 897.3L773.3 900.8L774.4 902.6L775.6 905.3L776.7 906.8L777.9 908.0L779.0 908.9L780.2 909.3L781.3 909.5L782.5 909.8L783.6 910.0L784.8 910.1L785.9 910.3" fill="#a6a6ff" fill-opacity="0.86" stroke="#8080f4" stroke-width="1.2" stroke-linejoin="round"/>
<path d="M685.8 935.6H812.4" stroke="#d6d628" stroke-width="0.8" fill="none"/>
<path d="M706.5 935.6L707.7 935.4L708.8 935.4L710.0 935.4L711.1 935.4L712.3 935.3L713.4 935.3L714.6 935.2L715.7 935.2L716.9 935.1L718.0 935.0L719.2 934.9L720.3 934.9L721.5 934.8L722.6 934.7L723.8 934.6L724.9 934.3L726.1 934.2L727.2 934.1L728.4 933.9L729.5 933.7L730.7 933.8L731.8 933.3L733.0 932.8L734.1 931.0L735.3 930.2L736.4 927.7L737.6 927.1L738.7 924.0L739.9 922.7L741.0 920.3L742.2 916.5L743.3 916.6L744.5 913.9L745.6 908.5L746.8 907.1L747.9 905.8L749.1 900.4L750.3 898.2L751.4 898.6L752.6 895.7L753.7 894.9L754.9 892.6L756.0 891.3L757.2 891.7L758.3 892.2L759.5 895.4L760.6 897.0L761.8 897.2L762.9 901.1L764.1 903.9L765.2 906.3L766.4 909.7L767.5 913.0L768.7 917.1L769.8 917.7L771.0 919.9L772.1 922.5L773.3 925.6L774.4 928.1L775.6 929.9L776.7 931.3L777.9 932.8L779.0 933.7L780.2 934.1L781.3 934.5L782.5 934.8L783.6 935.0L784.8 935.2L785.9 935.3L787.1 935.4L788.2 935.6" fill="#e2e23c" fill-opacity="0.86" stroke="#d6d628" stroke-width="1.2" stroke-linejoin="round"/>
<path d="M685.8 960.9H812.4" stroke="#0f9a50" stroke-width="0.8" fill="none"/>
<path d="M722.6 960.9L723.8 960.7L724.9 960.7L726.1 960.6L727.2 960.4L728.4 960.3L729.5 960.0L730.7 959.7L731.8 959.3L733.0 959.0L734.1 958.5L735.3 957.6L736.4 956.1L737.6 954.0L738.7 953.0L739.9 950.4L741.0 949.0L742.2 946.6L743.3 943.8L744.5 939.9L745.6 938.0L746.8 937.1L747.9 933.5L749.1 931.2L750.3 926.2L751.4 923.9L752.6 921.6L753.7 919.5L754.9 918.1L756.0 917.0L757.2 916.2L758.3 917.2L759.5 918.0L760.6 920.6L761.8 922.4L762.9 926.0L764.1 929.8L765.2 933.5L766.4 936.8L767.5 940.7L768.7 944.7L769.8 945.8L771.0 948.9L772.1 951.3L773.3 954.2L774.4 956.4L775.6 958.0L776.7 959.0L777.9 959.4L779.0 959.9L780.2 960.3L781.3 960.5L782.5 960.6L783.6 960.7L784.8 960.9" fill="#48c486" fill-opacity="0.86" stroke="#0f9a50" stroke-width="1.5" stroke-linejoin="round"/>
</svg>
<rect x="685.8" y="833.9" width="126.6" height="127" fill="none" stroke="#808080" stroke-width="1"/>
<path d="M693.65 960.9v1.7M699.9 960.9v1.7M705.18 960.9v1.7M709.75 960.9v1.7M713.79 960.9v1.7M717.4 960.9v3.3M741.15 960.9v1.7M755.04 960.9v1.7M764.9 960.9v1.7M772.55 960.9v1.7M778.8 960.9v1.7M784.08 960.9v1.7M788.65 960.9v1.7M792.69 960.9v1.7M796.3 960.9v3.3" stroke="#333" stroke-width="0.8" fill="none"/>
<text x="710.8" y="985.4" font-size="11.2" font-weight="bold" fill="#222">10<tspan font-size="10.6" dy="-7" dx="0.7">3</tspan></text>
<text x="789.7" y="985.4" font-size="11.2" font-weight="bold" fill="#222">10<tspan font-size="10.6" dy="-7" dx="0.7">4</tspan></text>
</g>
<g>
<rect x="833" y="833.9" width="126.6" height="127" fill="#fff"/>
<svg x="833" y="833.9" width="126.6" height="127.5" viewBox="833 833.9 126.6 127.5" overflow="hidden">
<path d="M833 884.9H959.6" stroke="#f25050" stroke-width="0.8" fill="none"/>
<path d="M852.6 884.9L853.7 884.7L854.9 884.6L856.0 884.3L857.2 884.0L858.3 883.4L859.5 882.5L860.6 881.4L861.8 878.4L862.9 874.7L864.1 870.9L865.2 867.4L866.4 864.1L867.5 858.4L868.7 851.7L869.8 849.9L871.0 845.1L872.1 839.8L873.3 839.0L874.4 839.2L875.6 841.6L876.7 842.9L877.9 848.7L879.0 852.9L880.2 857.1L881.3 861.3L882.5 866.9L883.6 872.0L884.8 874.6L885.9 878.5L887.1 881.0L888.2 882.6L889.4 883.3L890.5 884.0L891.7 884.3L892.8 884.6L894.0 884.7L895.1 884.9" fill="#ff8a8a" fill-opacity="0.86" stroke="#f25050" stroke-width="1.2" stroke-linejoin="round"/>
<path d="M833 910.3H959.6" stroke="#8080f4" stroke-width="0.8" fill="none"/>
<path d="M860.6 910.3L861.8 910.1L862.9 910.1L864.1 910.1L865.2 910.0L866.4 909.9L867.5 909.8L868.7 909.8L869.8 909.6L871.0 909.5L872.1 909.3L873.3 909.2L874.4 908.9L875.6 908.7L876.7 908.5L877.9 908.2L879.0 908.0L880.2 907.8L881.3 907.3L882.5 906.8L883.6 906.7L884.8 905.5L885.9 904.1L887.1 901.9L888.2 899.9L889.4 894.9L890.5 892.3L891.7 888.6L892.8 885.9L894.0 884.3L895.1 879.9L896.3 876.0L897.5 874.1L898.6 868.7L899.8 868.3L900.9 866.6L902.1 864.9L903.2 866.8L904.4 866.8L905.5 870.7L906.7 873.2L907.8 877.1L909.0 880.1L910.1 884.6L911.3 888.6L912.4 889.5L913.6 894.7L914.7 896.3L915.9 900.3L917.0 901.6L918.2 904.1L919.3 906.3L920.5 907.7L921.6 908.5L922.8 909.0L923.9 909.5L925.1 909.7L926.2 909.9L927.4 910.0L928.5 910.1L929.7 910.3" fill="#a6a6ff" fill-opacity="0.86" stroke="#8080f4" stroke-width="1.2" stroke-linejoin="round"/>
<path d="M833 935.6H959.6" stroke="#d6d628" stroke-width="0.8" fill="none"/>
<path d="M851.4 935.6L852.6 935.4L853.7 935.4L854.9 935.4L856.0 935.3L857.2 935.3L858.3 935.2L859.5 935.1L860.6 935.0L861.8 935.0L862.9 934.9L864.1 934.6L865.2 934.6L866.4 934.4L867.5 934.1L868.7 934.0L869.8 933.6L871.0 933.5L872.1 932.0L873.3 930.7L874.4 928.4L875.6 925.5L876.7 923.3L877.9 919.8L879.0 917.3L880.2 916.2L881.3 910.2L882.5 907.8L883.6 905.4L884.8 902.7L885.9 897.8L887.1 896.3L888.2 894.1L889.4 893.0L890.5 892.8L891.7 894.9L892.8 896.7L894.0 899.9L895.1 904.5L896.3 906.0L897.5 911.9L898.6 914.2L899.8 917.4L900.9 921.8L902.1 926.0L903.2 927.5L904.4 930.2L905.5 932.6L906.7 933.7L907.8 934.2L909.0 934.7L910.1 935.0L911.3 935.2L912.4 935.4L913.6 935.6" fill="#e2e23c" fill-opacity="0.86" stroke="#d6d628" stroke-width="1.2" stroke-linejoin="round"/>
<path d="M833 960.9H959.6" stroke="#0f9a50" stroke-width="0.8" fill="none"/>
<path d="M871.0 960.9L872.1 960.7L873.3 960.6L874.4 960.5L875.6 960.2L876.7 959.9L877.9 959.5L879.0 959.1L880.2 958.1L881.3 956.6L882.5 954.3L883.6 952.4L884.8 949.6L885.9 946.0L887.1 943.3L888.2 938.9L889.4 936.4L890.5 932.4L891.7 926.6L892.8 923.9L894.0 920.4L895.1 917.0L896.3 915.8L897.5 914.7L898.6 914.5L899.8 916.2L900.9 917.9L902.1 920.6L903.2 922.4L904.4 927.6L905.5 929.8L906.7 934.5L907.8 937.4L909.0 940.4L910.1 944.7L911.3 948.1L912.4 949.9L913.6 952.0L914.7 954.4L915.9 956.5L917.0 958.0L918.2 958.9L919.3 959.5L920.5 959.9L921.6 960.1L922.8 960.4L923.9 960.5L925.1 960.7L926.2 960.7L927.4 960.9" fill="#48c486" fill-opacity="0.86" stroke="#0f9a50" stroke-width="1.5" stroke-linejoin="round"/>
</svg>
<rect x="833" y="833.9" width="126.6" height="127" fill="none" stroke="#808080" stroke-width="1"/>
<path d="M842.87 960.9v1.7M849.33 960.9v1.7M854.34 960.9v1.7M858.43 960.9v1.7M861.89 960.9v1.7M864.89 960.9v1.7M867.53 960.9v1.7M869.9 960.9v3.3M885.46 960.9v1.7M894.57 960.9v1.7M901.03 960.9v1.7M906.04 960.9v1.7M910.13 960.9v1.7M913.59 960.9v1.7M916.59 960.9v1.7M919.23 960.9v1.7M921.6 960.9v3.3M937.16 960.9v1.7M946.27 960.9v1.7M952.73 960.9v1.7M957.74 960.9v1.7" stroke="#333" stroke-width="0.8" fill="none"/>
<text x="863.3" y="985.4" font-size="11.2" font-weight="bold" fill="#222">10<tspan font-size="10.6" dy="-7" dx="0.7">3</tspan></text>
<text x="915" y="985.4" font-size="11.2" font-weight="bold" fill="#222">10<tspan font-size="10.6" dy="-7" dx="0.7">4</tspan></text>
</g>
<g>
<rect x="537.6" y="997.6" width="126.6" height="127" fill="#fff"/>
<svg x="537.6" y="997.6" width="126.6" height="127.5" viewBox="537.6 997.6 126.6 127.5" overflow="hidden">
<path d="M537.6 1048.6H664.2" stroke="#f25050" stroke-width="0.8" fill="none"/>
<path d="M556.0 1048.6L557.2 1048.4L558.3 1048.3L559.5 1048.2L560.6 1048.0L561.8 1047.7L562.9 1047.3L564.1 1046.8L565.2 1046.1L566.4 1045.2L567.5 1043.2L568.7 1041.5L569.8 1040.2L571.0 1037.2L572.1 1035.8L573.3 1030.5L574.4 1027.5L575.6 1026.4L576.7 1023.3L577.9 1018.8L579.0 1017.6L580.2 1014.9L581.3 1012.3L582.5 1009.7L583.6 1007.3L584.8 1005.7L585.9 1006.6L587.1 1007.6L588.2 1010.4L589.4 1012.5L590.5 1016.5L591.7 1022.6L592.8 1025.1L594.0 1030.7L595.1 1034.7L596.3 1036.9L597.4 1039.3L598.6 1042.3L599.7 1044.9L600.9 1046.1L602.1 1046.9L603.2 1047.6L604.4 1048.0L605.5 1048.2L606.7 1048.4L607.8 1048.6" fill="#ff8a8a" fill-opacity="0.86" stroke="#f25050" stroke-width="1.2" stroke-linejoin="round"/>
<path d="M537.6 1074H664.2" stroke="#8080f4" stroke-width="0.8" fill="none"/>
<path d="M577.9 1074.0L579.0 1073.9L580.2 1073.8L581.3 1073.7L582.5 1073.7L583.6 1073.6L584.8 1073.4L585.9 1073.4L587.1 1073.1L588.2 1072.9L589.4 1072.7L590.5 1072.4L591.7 1072.3L592.8 1072.0L594.0 1071.6L595.1 1070.6L596.3 1068.6L597.4 1064.7L598.6 1063.0L599.7 1059.3L600.9 1055.6L602.1 1049.0L603.2 1045.8L604.4 1041.0L605.5 1037.4L606.7 1032.9L607.8 1030.8L609.0 1029.3L610.1 1029.4L611.3 1030.7L612.4 1033.3L613.6 1032.9L614.7 1035.6L615.9 1038.1L617.0 1040.0L618.2 1044.3L619.3 1047.2L620.5 1049.9L621.6 1052.8L622.8 1054.7L623.9 1059.2L625.1 1060.3L626.2 1062.4L627.4 1064.9L628.5 1067.1L629.7 1068.0L630.8 1070.2L632.0 1071.1L633.1 1071.9L634.3 1072.5L635.4 1072.8L636.6 1073.1L637.7 1073.3L638.9 1073.5L640.0 1073.6L641.2 1073.7L642.3 1073.8L643.5 1074.0" fill="#a6a6ff" fill-opacity="0.86" stroke="#8080f4" stroke-width="1.2" stroke-linejoin="round"/>
<path d="M537.6 1099.3H664.2" stroke="#d6d628" stroke-width="0.8" fill="none"/>
<path d="M566.4 1099.3L567.5 1099.1L568.7 1099.0L569.8 1098.8L571.0 1098.7L572.1 1098.3L573.3 1098.0L574.4 1097.4L575.6 1096.7L576.7 1095.6L577.9 1093.7L579.0 1091.8L580.2 1090.5L581.3 1087.2L582.5 1084.3L583.6 1081.8L584.8 1077.6L585.9 1074.9L587.1 1072.9L588.2 1070.2L589.4 1067.5L590.5 1062.5L591.7 1060.3L592.8 1058.4L594.0 1057.1L595.1 1055.8L596.3 1056.2L597.4 1057.5L598.6 1060.8L599.7 1062.1L600.9 1065.3L602.1 1068.7L603.2 1073.7L604.4 1077.9L605.5 1080.8L606.7 1083.1L607.8 1086.7L609.0 1089.2L610.1 1092.2L611.3 1094.4L612.4 1096.0L613.6 1097.3L614.7 1097.9L615.9 1098.3L617.0 1098.6L618.2 1098.9L619.3 1099.0L620.5 1099.1L621.6 1099.3" fill="#e2e23c" fill-opacity="0.86" stroke="#d6d628" stroke-width="1.2" stroke-linejoin="round"/>
<path d="M537.6 1124.6H664.2" stroke="#0f9a50" stroke-width="0.8" fill="none"/>
<path d="M580.2 1124.6L581.3 1124.4L582.5 1124.3L583.6 1124.2L584.8 1123.9L585.9 1123.7L587.1 1123.3L588.2 1122.8L589.4 1122.4L590.5 1121.4L591.7 1119.4L592.8 1118.1L594.0 1115.7L595.1 1112.4L596.3 1109.7L597.4 1109.1L598.6 1106.4L599.7 1102.9L600.9 1097.8L602.1 1097.3L603.2 1093.6L604.4 1091.1L605.5 1088.5L606.7 1085.0L607.8 1083.6L609.0 1082.1L610.1 1081.2L611.3 1082.4L612.4 1084.5L613.6 1085.3L614.7 1088.4L615.9 1090.3L617.0 1095.1L618.2 1097.8L619.3 1100.3L620.5 1102.2L621.6 1106.2L622.8 1109.5L623.9 1112.7L625.1 1114.9L626.2 1117.1L627.4 1118.1L628.5 1120.1L629.7 1121.7L630.8 1122.6L632.0 1123.1L633.1 1123.6L634.3 1123.8L635.4 1124.1L636.6 1124.2L637.7 1124.4L638.9 1124.4L640.0 1124.6" fill="#48c486" fill-opacity="0.86" stroke="#0f9a50" stroke-width="1.5" stroke-linejoin="round"/>
</svg>
<rect x="537.6" y="997.6" width="126.6" height="127" fill="none" stroke="#808080" stroke-width="1"/>
<path d="M545.38 1124.6v1.7M551.23 1124.6v1.7M556.17 1124.6v1.7M560.45 1124.6v1.7M564.22 1124.6v1.7M567.6 1124.6v3.3M589.82 1124.6v1.7M602.81 1124.6v1.7M612.03 1124.6v1.7M619.18 1124.6v1.7M625.03 1124.6v1.7M629.97 1124.6v1.7M634.25 1124.6v1.7M638.02 1124.6v1.7M641.4 1124.6v3.3M663.62 1124.6v1.7" stroke="#333" stroke-width="0.8" fill="none"/>
<text x="561" y="1149.1" font-size="11.2" font-weight="bold" fill="#222">10<tspan font-size="10.6" dy="-7" dx="0.7">3</tspan></text>
<text x="634.8" y="1149.1" font-size="11.2" font-weight="bold" fill="#222">10<tspan font-size="10.6" dy="-7" dx="0.7">4</tspan></text>
</g>
<g>
<rect x="685.8" y="997.6" width="126.6" height="127" fill="#fff"/>
<svg x="685.8" y="997.6" width="126.6" height="127.5" viewBox="685.8 997.6 126.6 127.5" overflow="hidden">
<path d="M685.8 1048.6H812.4" stroke="#f25050" stroke-width="0.8" fill="none"/>
<path d="M700.8 1048.6L701.9 1048.4L703.1 1048.3L704.2 1048.2L705.4 1048.1L706.5 1047.9L707.7 1047.7L708.8 1047.4L710.0 1047.2L711.1 1046.7L712.3 1046.2L713.4 1045.2L714.6 1044.2L715.7 1042.4L716.9 1040.9L718.0 1039.7L719.2 1036.2L720.3 1033.7L721.5 1033.5L722.6 1029.6L723.8 1027.5L724.9 1025.2L726.1 1022.1L727.2 1019.2L728.4 1017.9L729.5 1015.1L730.7 1012.4L731.8 1008.7L733.0 1007.0L734.1 1005.9L735.3 1005.6L736.4 1004.2L737.6 1004.5L738.7 1006.3L739.9 1010.2L741.0 1012.5L742.2 1016.5L743.3 1019.5L744.5 1022.1L745.6 1027.1L746.8 1031.3L747.9 1035.1L749.1 1038.1L750.3 1039.6L751.4 1042.1L752.6 1044.5L753.7 1046.4L754.9 1047.0L756.0 1047.5L757.2 1047.9L758.3 1048.1L759.5 1048.3L760.6 1048.4L761.8 1048.6" fill="#ff8a8a" fill-opacity="0.86" stroke="#f25050" stroke-width="1.2" stroke-linejoin="round"/>
<path d="M685.8 1074H812.4" stroke="#8080f4" stroke-width="0.8" fill="none"/>
<path d="M714.6 1074.0L715.7 1073.8L716.9 1073.8L718.0 1073.8L719.2 1073.7L720.3 1073.7L721.5 1073.6L722.6 1073.5L723.8 1073.4L724.9 1073.3L726.1 1073.1L727.2 1073.1L728.4 1072.9L729.5 1072.7L730.7 1072.6L731.8 1072.4L733.0 1072.1L734.1 1072.0L735.3 1071.5L736.4 1071.4L737.6 1071.1L738.7 1070.8L739.9 1070.4L741.0 1068.3L742.2 1066.1L743.3 1064.8L744.5 1061.5L745.6 1060.1L746.8 1056.1L747.9 1054.8L749.1 1050.7L750.3 1048.2L751.4 1043.6L752.6 1040.9L753.7 1040.2L754.9 1037.7L756.0 1034.3L757.2 1032.7L758.3 1031.3L759.5 1029.8L760.6 1031.1L761.8 1035.0L762.9 1037.5L764.1 1038.5L765.2 1040.8L766.4 1044.6L767.5 1048.8L768.7 1052.3L769.8 1056.6L771.0 1059.8L772.1 1061.9L773.3 1066.0L774.4 1067.5L775.6 1069.6L776.7 1071.5L777.9 1072.0L779.0 1072.8L780.2 1073.0L781.3 1073.4L782.5 1073.6L783.6 1073.8L784.8 1073.8L785.9 1074.0" fill="#a6a6ff" fill-opacity="0.86" stroke="#8080f4" stroke-width="1.2" stroke-linejoin="round"/>
<path d="M685.8 1099.3H812.4" stroke="#d6d628" stroke-width="0.8" fill="none"/>
<path d="M706.5 1099.3L707.7 1099.1L708.8 1099.1L710.0 1099.1L711.1 1099.0L712.3 1099.0L713.4 1099.0L714.6 1098.9L715.7 1098.8L716.9 1098.8L718.0 1098.7L719.2 1098.6L720.3 1098.5L721.5 1098.3L722.6 1098.2L723.8 1098.2L724.9 1098.1L726.1 1097.8L727.2 1097.7L728.4 1097.4L729.5 1097.2L730.7 1097.0L731.8 1096.3L733.0 1095.0L734.1 1093.0L735.3 1090.8L736.4 1090.0L737.6 1087.4L738.7 1085.4L739.9 1082.2L741.0 1080.7L742.2 1078.6L743.3 1073.8L744.5 1072.2L745.6 1068.3L746.8 1064.8L747.9 1063.3L749.1 1059.8L750.3 1058.1L751.4 1058.7L752.6 1056.2L753.7 1054.7L754.9 1055.1L756.0 1056.8L757.2 1056.7L758.3 1059.3L759.5 1062.2L760.6 1064.5L761.8 1068.4L762.9 1070.1L764.1 1074.4L765.2 1075.7L766.4 1077.7L767.5 1082.8L768.7 1085.2L769.8 1086.9L771.0 1088.6L772.1 1091.8L773.3 1093.3L774.4 1094.8L775.6 1096.6L776.7 1097.3L777.9 1097.6L779.0 1098.0L780.2 1098.4L781.3 1098.6L782.5 1098.8L783.6 1099.0L784.8 1099.1L785.9 1099.1L787.1 1099.3" fill="#e2e23c" fill-opacity="0.86" stroke="#d6d628" stroke-width="1.2" stroke-linejoin="round"/>
<path d="M685.8 1124.6H812.4" stroke="#0f9a50" stroke-width="0.8" fill="none"/>
<path d="M710.0 1124.6L711.1 1124.4L712.3 1124.4L713.4 1124.4L714.6 1124.3L715.7 1124.3L716.9 1124.3L718.0 1124.2L719.2 1124.1L720.3 1124.1L721.5 1124.0L722.6 1123.9L723.8 1123.9L724.9 1123.7L726.1 1123.7L727.2 1123.5L728.4 1123.3L729.5 1123.3L730.7 1123.1L731.8 1122.8L733.0 1122.4L734.1 1121.5L735.3 1120.2L736.4 1118.7L737.6 1116.4L738.7 1114.8L739.9 1114.3L741.0 1111.6L742.2 1107.5L743.3 1105.7L744.5 1103.7L745.6 1101.0L746.8 1098.3L747.9 1097.4L749.1 1094.1L750.3 1092.1L751.4 1090.2L752.6 1086.6L753.7 1087.0L754.9 1084.5L756.0 1082.8L757.2 1082.1L758.3 1083.8L759.5 1084.2L760.6 1086.4L761.8 1091.2L762.9 1091.7L764.1 1097.3L765.2 1099.6L766.4 1104.1L767.5 1107.3L768.7 1108.5L769.8 1111.0L771.0 1115.2L772.1 1117.0L773.3 1118.7L774.4 1120.6L775.6 1122.3L776.7 1122.7L777.9 1123.4L779.0 1123.6L780.2 1124.0L781.3 1124.2L782.5 1124.3L783.6 1124.4L784.8 1124.6" fill="#48c486" fill-opacity="0.86" stroke="#0f9a50" stroke-width="1.5" stroke-linejoin="round"/>
</svg>
<rect x="685.8" y="997.6" width="126.6" height="127" fill="none" stroke="#808080" stroke-width="1"/>
<path d="M693.65 1124.6v1.7M699.9 1124.6v1.7M705.18 1124.6v1.7M709.75 1124.6v1.7M713.79 1124.6v1.7M717.4 1124.6v3.3M741.15 1124.6v1.7M755.04 1124.6v1.7M764.9 1124.6v1.7M772.55 1124.6v1.7M778.8 1124.6v1.7M784.08 1124.6v1.7M788.65 1124.6v1.7M792.69 1124.6v1.7M796.3 1124.6v3.3" stroke="#333" stroke-width="0.8" fill="none"/>
<text x="710.8" y="1149.1" font-size="11.2" font-weight="bold" fill="#222">10<tspan font-size="10.6" dy="-7" dx="0.7">3</tspan></text>
<text x="789.7" y="1149.1" font-size="11.2" font-weight="bold" fill="#222">10<tspan font-size="10.6" dy="-7" dx="0.7">4</tspan></text>
</g>
<g>
<rect x="833" y="997.6" width="126.6" height="127" fill="#fff"/>
<svg x="833" y="997.6" width="126.6" height="127.5" viewBox="833 997.6 126.6 127.5" overflow="hidden">
<path d="M833 1048.6H959.6" stroke="#f25050" stroke-width="0.8" fill="none"/>
<path d="M852.6 1048.6L853.7 1048.4L854.9 1048.3L856.0 1048.1L857.2 1047.8L858.3 1047.1L859.5 1046.3L860.6 1044.9L861.8 1041.8L862.9 1039.8L864.1 1034.8L865.2 1032.1L866.4 1027.5L867.5 1022.5L868.7 1016.3L869.8 1011.0L871.0 1007.7L872.1 1005.6L873.3 1003.2L874.4 1002.9L875.6 1005.7L876.7 1007.9L877.9 1011.9L879.0 1017.7L880.2 1022.2L881.3 1024.8L882.5 1030.0L883.6 1035.7L884.8 1037.8L885.9 1041.7L887.1 1044.5L888.2 1046.0L889.4 1047.0L890.5 1047.6L891.7 1048.0L892.8 1048.3L894.0 1048.4L895.1 1048.6" fill="#ff8a8a" fill-opacity="0.86" stroke="#f25050" stroke-width="1.2" stroke-linejoin="round"/>
<path d="M833 1074H959.6" stroke="#8080f4" stroke-width="0.8" fill="none"/>
<path d="M860.6 1074.0L861.8 1073.8L862.9 1073.8L864.1 1073.8L865.2 1073.7L866.4 1073.6L867.5 1073.6L868.7 1073.5L869.8 1073.3L871.0 1073.2L872.1 1073.0L873.3 1072.9L874.4 1072.7L875.6 1072.3L876.7 1072.3L877.9 1071.8L879.0 1071.7L880.2 1071.2L881.3 1070.7L882.5 1070.4L883.6 1070.1L884.8 1069.3L885.9 1068.1L887.1 1065.4L888.2 1062.0L889.4 1059.3L890.5 1057.1L891.7 1054.5L892.8 1050.7L894.0 1047.0L895.1 1044.5L896.3 1038.6L897.5 1036.4L898.6 1034.1L899.8 1033.0L900.9 1030.5L902.1 1029.4L903.2 1030.9L904.4 1032.8L905.5 1035.0L906.7 1036.6L907.8 1039.3L909.0 1045.6L910.1 1048.7L911.3 1049.9L912.4 1056.1L913.6 1058.5L914.7 1060.7L915.9 1063.5L917.0 1066.5L918.2 1068.0L919.3 1070.1L920.5 1071.8L921.6 1072.2L922.8 1072.8L923.9 1073.1L925.1 1073.4L926.2 1073.6L927.4 1073.8L928.5 1073.8L929.7 1074.0" fill="#a6a6ff" fill-opacity="0.86" stroke="#8080f4" stroke-width="1.2" stroke-linejoin="round"/>
<path d="M833 1099.3H959.6" stroke="#d6d628" stroke-width="0.8" fill="none"/>
<path d="M851.4 1099.3L852.6 1099.1L853.7 1099.1L854.9 1099.0L856.0 1099.0L857.2 1098.9L858.3 1098.8L859.5 1098.7L860.6 1098.6L861.8 1098.5L862.9 1098.3L864.1 1098.2L865.2 1098.0L866.4 1097.9L867.5 1097.6L868.7 1097.4L869.8 1097.1L871.0 1096.5L872.1 1094.6L873.3 1092.0L874.4 1090.3L875.6 1088.1L876.7 1084.8L877.9 1083.4L879.0 1079.6L880.2 1074.9L881.3 1072.6L882.5 1069.6L883.6 1064.6L884.8 1063.2L885.9 1060.9L887.1 1059.3L888.2 1057.2L889.4 1056.9L890.5 1058.6L891.7 1059.2L892.8 1063.0L894.0 1066.7L895.1 1069.3L896.3 1074.7L897.5 1076.7L898.6 1081.3L899.8 1085.7L900.9 1088.6L902.1 1090.6L903.2 1093.6L904.4 1096.2L905.5 1097.0L906.7 1097.8L907.8 1098.4L909.0 1098.7L910.1 1098.9L911.3 1099.1L912.4 1099.3" fill="#e2e23c" fill-opacity="0.86" stroke="#d6d628" stroke-width="1.2" stroke-linejoin="round"/>
<path d="M833 1124.6H959.6" stroke="#0f9a50" stroke-width="0.8" fill="none"/>
<path d="M871.0 1124.6L872.1 1124.4L873.3 1124.3L874.4 1124.2L875.6 1124.0L876.7 1123.8L877.9 1123.3L879.0 1122.8L880.2 1121.7L881.3 1120.6L882.5 1118.1L883.6 1115.9L884.8 1112.2L885.9 1110.7L887.1 1106.9L888.2 1103.3L889.4 1099.8L890.5 1096.8L891.7 1091.6L892.8 1089.2L894.0 1084.4L895.1 1083.4L896.3 1080.2L897.5 1078.7L898.6 1078.7L899.8 1081.2L900.9 1083.9L902.1 1084.4L903.2 1089.7L904.4 1090.1L905.5 1094.5L906.7 1099.0L907.8 1100.6L909.0 1104.1L910.1 1108.6L911.3 1110.3L912.4 1114.3L913.6 1116.0L914.7 1118.3L915.9 1120.0L917.0 1121.9L918.2 1122.6L919.3 1123.0L920.5 1123.5L921.6 1123.8L922.8 1124.1L923.9 1124.3L925.1 1124.4L926.2 1124.4L927.4 1124.6" fill="#48c486" fill-opacity="0.86" stroke="#0f9a50" stroke-width="1.5" stroke-linejoin="round"/>
</svg>
<rect x="833" y="997.6" width="126.6" height="127" fill="none" stroke="#808080" stroke-width="1"/>
<path d="M842.87 1124.6v1.7M849.33 1124.6v1.7M854.34 1124.6v1.7M858.43 1124.6v1.7M861.89 1124.6v1.7M864.89 1124.6v1.7M867.53 1124.6v1.7M869.9 1124.6v3.3M885.46 1124.6v1.7M894.57 1124.6v1.7M901.03 1124.6v1.7M906.04 1124.6v1.7M910.13 1124.6v1.7M913.59 1124.6v1.7M916.59 1124.6v1.7M919.23 1124.6v1.7M921.6 1124.6v3.3M937.16 1124.6v1.7M946.27 1124.6v1.7M952.73 1124.6v1.7M957.74 1124.6v1.7" stroke="#333" stroke-width="0.8" fill="none"/>
<text x="863.3" y="1149.1" font-size="11.2" font-weight="bold" fill="#222">10<tspan font-size="10.6" dy="-7" dx="0.7">3</tspan></text>
<text x="915" y="1149.1" font-size="11.2" font-weight="bold" fill="#222">10<tspan font-size="10.6" dy="-7" dx="0.7">4</tspan></text>
</g>
<rect x="965.4" y="834" width="107.4" height="60" fill="#fff" stroke="#a8a8a8" stroke-width="1"/>
<path d="M965.4 849h107.4" stroke="#b8b8b8" stroke-width="1"/>
<path d="M965.4 864h107.4" stroke="#b8b8b8" stroke-width="1"/>
<path d="M965.4 879h107.4" stroke="#b8b8b8" stroke-width="1"/>
<path d="M978.8 834v60" stroke="#b8b8b8" stroke-width="1"/>
<rect x="968" y="837" width="8.8" height="9" fill="#ff8a8a" stroke="#f25050" stroke-width="0.9"/>
<text x="981" y="846" font-size="11.8" font-weight="bold" fill="#222">Control</text>
<rect x="968" y="852" width="8.8" height="9" fill="#a6a6ff" stroke="#8080f4" stroke-width="0.9"/>
<text x="981" y="861" font-size="11.8" font-weight="bold" fill="#222">Glycooligomers</text>
<rect x="968" y="867" width="8.8" height="9" fill="#e2e23c" stroke="#d6d628" stroke-width="0.9"/>
<text x="981" y="876" font-size="11.8" font-weight="bold" fill="#222">Chloroquine</text>
<rect x="968" y="882" width="8.8" height="9" fill="#48c486" stroke="#0f9a50" stroke-width="0.9"/>
<text x="981" y="891" font-size="11.8" font-weight="bold" fill="#222">BAY-876</text>
<path d="M534.6 1173.8H724" stroke="#222" stroke-width="1.3"/>
<path d="M781 1173.8H956" stroke="#222" stroke-width="1.3"/>
<path d="M955 1163.6L972.6 1173.8L955 1184Z" fill="#000"/>
<text x="752.7" y="1181" font-size="19.5" font-weight="bold" text-anchor="middle" fill="#2a2a2a">FITC</text>
</g>
</svg>
</body></html>
